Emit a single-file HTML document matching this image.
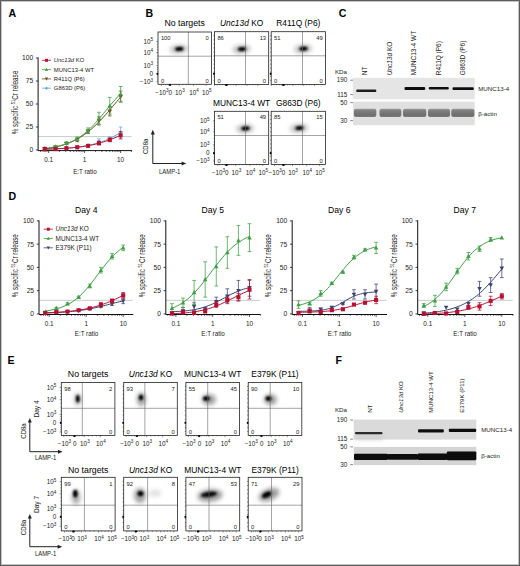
<!DOCTYPE html>
<html><head><meta charset="utf-8"><style>
html,body{margin:0;padding:0;background:#fff;}
body{width:520px;height:566px;overflow:hidden;position:relative;}
svg{display:block;}
#frame{position:absolute;left:0;top:0;width:520px;height:566px;box-sizing:border-box;border:1px solid #5c5c5c;box-shadow:inset 0 0 0 1px #c4c4c4;}
</style></head><body>
<svg width="520" height="566" viewBox="0 0 520 566">
<defs>
<filter id="b1" x="-100%" y="-100%" width="300%" height="300%"><feGaussianBlur stdDeviation="0.9"/></filter>
<filter id="b2" x="-100%" y="-100%" width="300%" height="300%"><feGaussianBlur stdDeviation="2.2"/></filter>
<linearGradient id="gact" x1="0" y1="0" x2="0" y2="1"><stop offset="0" stop-color="#9a9a9a"/><stop offset="0.25" stop-color="#7e7e7e"/><stop offset="0.75" stop-color="#6e6e6e"/><stop offset="1" stop-color="#7a7a7a"/></linearGradient>
<filter id="b3" x="-50%" y="-200%" width="200%" height="500%"><feGaussianBlur stdDeviation="0.5"/></filter>
</defs>
<rect x="0" y="0" width="520" height="566" fill="#fff"/>
<g font-family='"Liberation Sans", sans-serif'>
<text x="8.60" y="16.60" font-size="10.6" text-anchor="start" font-weight="bold" fill="#000">A</text>
<text x="145.40" y="17.20" font-size="10.6" text-anchor="start" font-weight="bold" fill="#000">B</text>
<text x="338.80" y="16.60" font-size="10.6" text-anchor="start" font-weight="bold" fill="#000">C</text>
<text x="8.60" y="200.40" font-size="10.6" text-anchor="start" font-weight="bold" fill="#000">D</text>
<text x="7.40" y="363.80" font-size="10.6" text-anchor="start" font-weight="bold" fill="#000">E</text>
<text x="335.40" y="364.20" font-size="10.6" text-anchor="start" font-weight="bold" fill="#000">F</text>
<line x1="38.10" y1="136.57" x2="131.50" y2="136.57" stroke="#b3babf" stroke-width="0.75"/>
<path d="M38.10,57.50 V150.60 H132.00" fill="none" stroke="#111" stroke-width="1"/>
<line x1="35.90" y1="150.00" x2="38.10" y2="150.00" stroke="#111" stroke-width="0.8"/>
<text x="33.20" y="152.40" font-size="6.7" text-anchor="end" fill="#222">0</text>
<line x1="35.90" y1="127.00" x2="38.10" y2="127.00" stroke="#111" stroke-width="0.8"/>
<text x="33.20" y="129.40" font-size="6.7" text-anchor="end" fill="#222">25</text>
<line x1="35.90" y1="104.00" x2="38.10" y2="104.00" stroke="#111" stroke-width="0.8"/>
<text x="33.20" y="106.40" font-size="6.7" text-anchor="end" fill="#222">50</text>
<line x1="35.90" y1="81.00" x2="38.10" y2="81.00" stroke="#111" stroke-width="0.8"/>
<text x="33.20" y="83.40" font-size="6.7" text-anchor="end" fill="#222">75</text>
<line x1="35.90" y1="58.00" x2="38.10" y2="58.00" stroke="#111" stroke-width="0.8"/>
<text x="33.20" y="60.40" font-size="6.7" text-anchor="end" fill="#222">100</text>
<line x1="40.61" y1="150.60" x2="40.61" y2="151.90" stroke="#111" stroke-width="0.7"/>
<line x1="43.02" y1="150.60" x2="43.02" y2="151.90" stroke="#111" stroke-width="0.7"/>
<line x1="45.11" y1="150.60" x2="45.11" y2="151.90" stroke="#111" stroke-width="0.7"/>
<line x1="46.95" y1="150.60" x2="46.95" y2="151.90" stroke="#111" stroke-width="0.7"/>
<line x1="48.60" y1="150.60" x2="48.60" y2="153.00" stroke="#111" stroke-width="0.7"/>
<line x1="59.44" y1="150.60" x2="59.44" y2="151.90" stroke="#111" stroke-width="0.7"/>
<line x1="65.78" y1="150.60" x2="65.78" y2="151.90" stroke="#111" stroke-width="0.7"/>
<line x1="70.27" y1="150.60" x2="70.27" y2="151.90" stroke="#111" stroke-width="0.7"/>
<line x1="73.76" y1="150.60" x2="73.76" y2="151.90" stroke="#111" stroke-width="0.7"/>
<line x1="76.61" y1="150.60" x2="76.61" y2="151.90" stroke="#111" stroke-width="0.7"/>
<line x1="79.02" y1="150.60" x2="79.02" y2="151.90" stroke="#111" stroke-width="0.7"/>
<line x1="81.11" y1="150.60" x2="81.11" y2="151.90" stroke="#111" stroke-width="0.7"/>
<line x1="82.95" y1="150.60" x2="82.95" y2="151.90" stroke="#111" stroke-width="0.7"/>
<line x1="84.60" y1="150.60" x2="84.60" y2="153.00" stroke="#111" stroke-width="0.7"/>
<line x1="95.44" y1="150.60" x2="95.44" y2="151.90" stroke="#111" stroke-width="0.7"/>
<line x1="101.78" y1="150.60" x2="101.78" y2="151.90" stroke="#111" stroke-width="0.7"/>
<line x1="106.27" y1="150.60" x2="106.27" y2="151.90" stroke="#111" stroke-width="0.7"/>
<line x1="109.76" y1="150.60" x2="109.76" y2="151.90" stroke="#111" stroke-width="0.7"/>
<line x1="112.61" y1="150.60" x2="112.61" y2="151.90" stroke="#111" stroke-width="0.7"/>
<line x1="115.02" y1="150.60" x2="115.02" y2="151.90" stroke="#111" stroke-width="0.7"/>
<line x1="117.11" y1="150.60" x2="117.11" y2="151.90" stroke="#111" stroke-width="0.7"/>
<line x1="118.95" y1="150.60" x2="118.95" y2="151.90" stroke="#111" stroke-width="0.7"/>
<line x1="120.60" y1="150.60" x2="120.60" y2="153.00" stroke="#111" stroke-width="0.7"/>
<line x1="131.44" y1="150.60" x2="131.44" y2="151.90" stroke="#111" stroke-width="0.7"/>
<text x="48.60" y="161.60" font-size="6.4" text-anchor="middle" fill="#222">0.1</text>
<text x="84.60" y="161.60" font-size="6.4" text-anchor="middle" fill="#222">1</text>
<text x="120.60" y="161.60" font-size="6.4" text-anchor="middle" fill="#222">10</text>
<path d="M44.72,149.11 L46.61,149.06 L48.51,149.00 L50.41,148.94 L52.30,148.88 L54.20,148.81 L56.10,148.73 L58.00,148.64 L59.89,148.54 L61.79,148.44 L63.69,148.32 L65.58,148.19 L67.48,148.06 L69.38,147.90 L71.28,147.73 L73.17,147.55 L75.07,147.35 L76.97,147.13 L78.86,146.89 L80.76,146.63 L82.66,146.34 L84.55,146.03 L86.45,145.69 L88.35,145.32 L90.25,144.92 L92.14,144.49 L94.04,144.02 L95.94,143.51 L97.83,142.96 L99.73,142.37 L101.63,141.73 L103.53,141.04 L105.42,140.31 L107.32,139.53 L109.22,138.70 L111.11,137.81 L113.01,136.88 L114.91,135.89 L116.81,134.85 L118.70,133.76 L120.60,132.62" fill="none" stroke="#5aaee8" stroke-width="1.0"/>
<path d="M98.93,138.96 V144.48 M97.03,138.96 H100.83 M97.03,144.48 H100.83" stroke="#5aaee8" stroke-width="0.75" fill="none"/>
<path d="M109.76,137.12 V140.80 M107.86,137.12 H111.66 M107.86,140.80 H111.66" stroke="#5aaee8" stroke-width="0.75" fill="none"/>
<path d="M120.60,127.00 V138.04 M118.70,127.00 H122.50 M118.70,138.04 H122.50" stroke="#5aaee8" stroke-width="0.75" fill="none"/>
<path d="M44.72,146.62 L46.77,149.08 L44.72,151.54 L42.67,149.08Z" fill="#5aaee8"/>
<path d="M55.55,146.16 L57.60,148.62 L55.55,151.08 L53.50,148.62Z" fill="#5aaee8"/>
<path d="M66.41,145.70 L68.46,148.16 L66.41,150.62 L64.36,148.16Z" fill="#5aaee8"/>
<path d="M77.25,144.78 L79.30,147.24 L77.25,149.70 L75.20,147.24Z" fill="#5aaee8"/>
<path d="M88.09,143.40 L90.14,145.86 L88.09,148.32 L86.04,145.86Z" fill="#5aaee8"/>
<path d="M98.93,139.26 L100.98,141.72 L98.93,144.18 L96.88,141.72Z" fill="#5aaee8"/>
<path d="M109.76,136.50 L111.81,138.96 L109.76,141.42 L107.71,138.96Z" fill="#5aaee8"/>
<path d="M120.60,130.06 L122.65,132.52 L120.60,134.98 L118.55,132.52Z" fill="#5aaee8"/>
<path d="M44.72,148.87 L46.61,148.61 L48.51,148.32 L50.41,148.00 L52.30,147.65 L54.20,147.27 L56.10,146.86 L58.00,146.41 L59.89,145.92 L61.79,145.39 L63.69,144.81 L65.58,144.18 L67.48,143.49 L69.38,142.75 L71.28,141.96 L73.17,141.09 L75.07,140.17 L76.97,139.17 L78.86,138.10 L80.76,136.95 L82.66,135.73 L84.55,134.42 L86.45,133.04 L88.35,131.57 L90.25,130.02 L92.14,128.38 L94.04,126.67 L95.94,124.87 L97.83,123.01 L99.73,121.07 L101.63,119.06 L103.53,117.00 L105.42,114.88 L107.32,112.72 L109.22,110.52 L111.11,108.30 L113.01,106.06 L114.91,103.82 L116.81,101.58 L118.70,99.36 L120.60,97.16" fill="none" stroke="#6e4a1c" stroke-width="1.0"/>
<path d="M44.72,147.24 V150.00 M42.82,147.24 H46.62 M42.82,150.00 H46.62" stroke="#6e4a1c" stroke-width="0.75" fill="none"/>
<path d="M55.55,146.32 V148.16 M53.65,146.32 H57.45 M53.65,148.16 H57.45" stroke="#6e4a1c" stroke-width="0.75" fill="none"/>
<path d="M66.41,142.64 V144.48 M64.51,142.64 H68.31 M64.51,144.48 H68.31" stroke="#6e4a1c" stroke-width="0.75" fill="none"/>
<path d="M77.25,138.04 V141.72 M75.35,138.04 H79.15 M75.35,141.72 H79.15" stroke="#6e4a1c" stroke-width="0.75" fill="none"/>
<path d="M88.09,129.76 V133.44 M86.19,129.76 H89.99 M86.19,133.44 H89.99" stroke="#6e4a1c" stroke-width="0.75" fill="none"/>
<path d="M98.93,116.88 V124.24 M97.03,116.88 H100.83 M97.03,124.24 H100.83" stroke="#6e4a1c" stroke-width="0.75" fill="none"/>
<path d="M109.76,106.76 V115.96 M107.86,106.76 H111.66 M107.86,115.96 H111.66" stroke="#6e4a1c" stroke-width="0.75" fill="none"/>
<path d="M120.60,91.12 V102.16 M118.70,91.12 H122.50 M118.70,102.16 H122.50" stroke="#6e4a1c" stroke-width="0.75" fill="none"/>
<path d="M44.72,151.08 L46.97,146.88 L42.46,146.88Z" fill="#6e4a1c"/>
<path d="M55.55,149.70 L57.81,145.50 L53.30,145.50Z" fill="#6e4a1c"/>
<path d="M66.41,146.02 L68.67,141.82 L64.16,141.82Z" fill="#6e4a1c"/>
<path d="M77.25,142.34 L79.51,138.14 L75.00,138.14Z" fill="#6e4a1c"/>
<path d="M88.09,134.06 L90.34,129.86 L85.83,129.86Z" fill="#6e4a1c"/>
<path d="M98.93,123.02 L101.18,118.82 L96.67,118.82Z" fill="#6e4a1c"/>
<path d="M109.76,113.82 L112.02,109.62 L107.51,109.62Z" fill="#6e4a1c"/>
<path d="M120.60,99.10 L122.85,94.90 L118.34,94.90Z" fill="#6e4a1c"/>
<path d="M44.72,148.34 L46.61,148.13 L48.51,147.90 L50.41,147.64 L52.30,147.34 L54.20,147.01 L56.10,146.65 L58.00,146.24 L59.89,145.78 L61.79,145.28 L63.69,144.72 L65.58,144.10 L67.48,143.41 L69.38,142.66 L71.28,141.82 L73.17,140.91 L75.07,139.91 L76.97,138.82 L78.86,137.63 L80.76,136.34 L82.66,134.95 L84.55,133.45 L86.45,131.85 L88.35,130.15 L90.25,128.34 L92.14,126.43 L94.04,124.44 L95.94,122.36 L97.83,120.21 L99.73,117.99 L101.63,115.73 L103.53,113.44 L105.42,111.12 L107.32,108.81 L109.22,106.51 L111.11,104.25 L113.01,102.02 L114.91,99.86 L116.81,97.77 L118.70,95.76 L120.60,93.84" fill="none" stroke="#3f9f45" stroke-width="1.0"/>
<path d="M44.72,147.70 V149.54 M42.82,147.70 H46.62 M42.82,149.54 H46.62" stroke="#3f9f45" stroke-width="0.75" fill="none"/>
<path d="M55.55,145.86 V147.70 M53.65,145.86 H57.45 M53.65,147.70 H57.45" stroke="#3f9f45" stroke-width="0.75" fill="none"/>
<path d="M66.41,142.18 V144.02 M64.51,142.18 H68.31 M64.51,144.02 H68.31" stroke="#3f9f45" stroke-width="0.75" fill="none"/>
<path d="M77.25,137.12 V140.80 M75.35,137.12 H79.15 M75.35,140.80 H79.15" stroke="#3f9f45" stroke-width="0.75" fill="none"/>
<path d="M88.09,127.92 V133.44 M86.19,127.92 H89.99 M86.19,133.44 H89.99" stroke="#3f9f45" stroke-width="0.75" fill="none"/>
<path d="M98.93,112.28 V125.16 M97.03,112.28 H100.83 M97.03,125.16 H100.83" stroke="#3f9f45" stroke-width="0.75" fill="none"/>
<path d="M109.76,97.56 V114.12 M107.86,97.56 H111.66 M107.86,114.12 H111.66" stroke="#3f9f45" stroke-width="0.75" fill="none"/>
<path d="M120.60,86.52 V101.24 M118.70,86.52 H122.50 M118.70,101.24 H122.50" stroke="#3f9f45" stroke-width="0.75" fill="none"/>
<path d="M44.72,146.16 L46.97,150.36 L42.46,150.36Z" fill="#3f9f45"/>
<path d="M55.55,144.32 L57.81,148.52 L53.30,148.52Z" fill="#3f9f45"/>
<path d="M66.41,140.64 L68.67,144.84 L64.16,144.84Z" fill="#3f9f45"/>
<path d="M77.25,136.50 L79.51,140.70 L75.00,140.70Z" fill="#3f9f45"/>
<path d="M88.09,128.22 L90.34,132.42 L85.83,132.42Z" fill="#3f9f45"/>
<path d="M98.93,116.26 L101.18,120.46 L96.67,120.46Z" fill="#3f9f45"/>
<path d="M109.76,103.38 L112.02,107.58 L107.51,107.58Z" fill="#3f9f45"/>
<path d="M120.60,91.42 L122.85,95.62 L118.34,95.62Z" fill="#3f9f45"/>
<path d="M44.72,149.20 L46.61,149.15 L48.51,149.10 L50.41,149.04 L52.30,148.98 L54.20,148.91 L56.10,148.83 L58.00,148.75 L59.89,148.66 L61.79,148.56 L63.69,148.45 L65.58,148.32 L67.48,148.19 L69.38,148.05 L71.28,147.89 L73.17,147.71 L75.07,147.53 L76.97,147.32 L78.86,147.10 L80.76,146.85 L82.66,146.59 L84.55,146.30 L86.45,145.99 L88.35,145.66 L90.25,145.30 L92.14,144.91 L94.04,144.49 L95.94,144.04 L97.83,143.56 L99.73,143.05 L101.63,142.50 L103.53,141.93 L105.42,141.31 L107.32,140.67 L109.22,139.99 L111.11,139.28 L113.01,138.54 L114.91,137.77 L116.81,136.97 L118.70,136.14 L120.60,135.30" fill="none" stroke="#b8102f" stroke-width="1.0"/>
<path d="M98.93,141.26 V144.94 M97.03,141.26 H100.83 M97.03,144.94 H100.83" stroke="#b8102f" stroke-width="0.75" fill="none"/>
<path d="M109.76,138.04 V141.72 M107.86,138.04 H111.66 M107.86,141.72 H111.66" stroke="#b8102f" stroke-width="0.75" fill="none"/>
<path d="M120.60,131.60 V138.96 M118.70,131.60 H122.50 M118.70,138.96 H122.50" stroke="#b8102f" stroke-width="0.75" fill="none"/>
<rect x="42.67" y="147.03" width="4.10" height="4.10" fill="#b8102f"/>
<rect x="53.50" y="147.03" width="4.10" height="4.10" fill="#b8102f"/>
<rect x="64.36" y="146.11" width="4.10" height="4.10" fill="#b8102f"/>
<rect x="75.20" y="145.19" width="4.10" height="4.10" fill="#b8102f"/>
<rect x="86.04" y="143.81" width="4.10" height="4.10" fill="#b8102f"/>
<rect x="96.88" y="141.05" width="4.10" height="4.10" fill="#b8102f"/>
<rect x="107.71" y="137.83" width="4.10" height="4.10" fill="#b8102f"/>
<rect x="118.55" y="133.23" width="4.10" height="4.10" fill="#b8102f"/>
<text x="18.10" y="102.50" font-size="8.8" text-anchor="middle" fill="#222" textLength="63.5" lengthAdjust="spacingAndGlyphs" transform="rotate(-90 18.10 102.50)">% specific <tspan font-size="5.6" dy="-3.2">51</tspan><tspan dy="3.2">Cr release</tspan></text>
<text x="84.90" y="173.50" font-size="8.0" text-anchor="middle" fill="#222" textLength="23.5" lengthAdjust="spacingAndGlyphs">E:T ratio</text>
<line x1="41.90" y1="60.30" x2="51.10" y2="60.30" stroke="#b8102f" stroke-width="0.8"/>
<rect x="45.00" y="58.80" width="3.00" height="3.00" fill="#b8102f"/>
<text x="53.80" y="62.40" font-size="5.9" text-anchor="start" fill="#222"><tspan font-style="italic">Unc13d</tspan> KO</text>
<line x1="41.90" y1="69.60" x2="51.10" y2="69.60" stroke="#3f9f45" stroke-width="0.8"/>
<path d="M46.50,67.80 L48.15,70.88 L44.85,70.88Z" fill="#3f9f45"/>
<text x="53.80" y="71.70" font-size="5.9" text-anchor="start" fill="#222">MUNC13-4 WT</text>
<line x1="41.90" y1="78.90" x2="51.10" y2="78.90" stroke="#6e4a1c" stroke-width="0.8"/>
<path d="M46.50,80.70 L48.15,77.62 L44.85,77.62Z" fill="#6e4a1c"/>
<text x="53.80" y="81.00" font-size="5.9" text-anchor="start" fill="#222">R411Q (P6)</text>
<line x1="41.90" y1="88.20" x2="51.10" y2="88.20" stroke="#5aaee8" stroke-width="0.8"/>
<path d="M46.50,86.40 L48.00,88.20 L46.50,90.00 L45.00,88.20Z" fill="#5aaee8"/>
<text x="53.80" y="90.30" font-size="5.9" text-anchor="start" fill="#222">G863D (P6)</text>
<line x1="39.00" y1="300.32" x2="132.80" y2="300.32" stroke="#b3babf" stroke-width="0.75"/>
<path d="M39.00,220.40 V314.50 H133.30" fill="none" stroke="#111" stroke-width="1"/>
<line x1="36.80" y1="313.90" x2="39.00" y2="313.90" stroke="#111" stroke-width="0.8"/>
<text x="34.10" y="316.30" font-size="6.7" text-anchor="end" fill="#222">0</text>
<line x1="36.80" y1="290.65" x2="39.00" y2="290.65" stroke="#111" stroke-width="0.8"/>
<text x="34.10" y="293.05" font-size="6.7" text-anchor="end" fill="#222">25</text>
<line x1="36.80" y1="267.40" x2="39.00" y2="267.40" stroke="#111" stroke-width="0.8"/>
<text x="34.10" y="269.80" font-size="6.7" text-anchor="end" fill="#222">50</text>
<line x1="36.80" y1="244.15" x2="39.00" y2="244.15" stroke="#111" stroke-width="0.8"/>
<text x="34.10" y="246.55" font-size="6.7" text-anchor="end" fill="#222">75</text>
<line x1="36.80" y1="220.90" x2="39.00" y2="220.90" stroke="#111" stroke-width="0.8"/>
<text x="34.10" y="223.30" font-size="6.7" text-anchor="end" fill="#222">100</text>
<line x1="40.99" y1="314.50" x2="40.99" y2="315.80" stroke="#111" stroke-width="0.7"/>
<line x1="43.47" y1="314.50" x2="43.47" y2="315.80" stroke="#111" stroke-width="0.7"/>
<line x1="45.61" y1="314.50" x2="45.61" y2="315.80" stroke="#111" stroke-width="0.7"/>
<line x1="47.51" y1="314.50" x2="47.51" y2="315.80" stroke="#111" stroke-width="0.7"/>
<line x1="49.20" y1="314.50" x2="49.20" y2="316.90" stroke="#111" stroke-width="0.7"/>
<line x1="60.34" y1="314.50" x2="60.34" y2="315.80" stroke="#111" stroke-width="0.7"/>
<line x1="66.85" y1="314.50" x2="66.85" y2="315.80" stroke="#111" stroke-width="0.7"/>
<line x1="71.48" y1="314.50" x2="71.48" y2="315.80" stroke="#111" stroke-width="0.7"/>
<line x1="75.06" y1="314.50" x2="75.06" y2="315.80" stroke="#111" stroke-width="0.7"/>
<line x1="77.99" y1="314.50" x2="77.99" y2="315.80" stroke="#111" stroke-width="0.7"/>
<line x1="80.47" y1="314.50" x2="80.47" y2="315.80" stroke="#111" stroke-width="0.7"/>
<line x1="82.61" y1="314.50" x2="82.61" y2="315.80" stroke="#111" stroke-width="0.7"/>
<line x1="84.51" y1="314.50" x2="84.51" y2="315.80" stroke="#111" stroke-width="0.7"/>
<line x1="86.20" y1="314.50" x2="86.20" y2="316.90" stroke="#111" stroke-width="0.7"/>
<line x1="97.34" y1="314.50" x2="97.34" y2="315.80" stroke="#111" stroke-width="0.7"/>
<line x1="103.85" y1="314.50" x2="103.85" y2="315.80" stroke="#111" stroke-width="0.7"/>
<line x1="108.48" y1="314.50" x2="108.48" y2="315.80" stroke="#111" stroke-width="0.7"/>
<line x1="112.06" y1="314.50" x2="112.06" y2="315.80" stroke="#111" stroke-width="0.7"/>
<line x1="114.99" y1="314.50" x2="114.99" y2="315.80" stroke="#111" stroke-width="0.7"/>
<line x1="117.47" y1="314.50" x2="117.47" y2="315.80" stroke="#111" stroke-width="0.7"/>
<line x1="119.61" y1="314.50" x2="119.61" y2="315.80" stroke="#111" stroke-width="0.7"/>
<line x1="121.51" y1="314.50" x2="121.51" y2="315.80" stroke="#111" stroke-width="0.7"/>
<line x1="123.20" y1="314.50" x2="123.20" y2="316.90" stroke="#111" stroke-width="0.7"/>
<text x="49.20" y="325.50" font-size="6.4" text-anchor="middle" fill="#222">0.1</text>
<text x="86.20" y="325.50" font-size="6.4" text-anchor="middle" fill="#222">1</text>
<text x="123.20" y="325.50" font-size="6.4" text-anchor="middle" fill="#222">10</text>
<path d="M45.21,313.00 L47.16,312.94 L49.11,312.88 L51.06,312.81 L53.01,312.73 L54.96,312.65 L56.91,312.55 L58.86,312.45 L60.81,312.34 L62.76,312.21 L64.71,312.08 L66.66,311.93 L68.61,311.77 L70.56,311.59 L72.50,311.40 L74.45,311.19 L76.40,310.96 L78.35,310.71 L80.30,310.45 L82.25,310.17 L84.20,309.86 L86.15,309.54 L88.10,309.19 L90.05,308.82 L92.00,308.44 L93.95,308.03 L95.90,307.61 L97.85,307.17 L99.80,306.71 L101.75,306.24 L103.70,305.76 L105.65,305.27 L107.60,304.77 L109.55,304.27 L111.50,303.77 L113.45,303.27 L115.40,302.78 L117.35,302.29 L119.30,301.81 L121.25,301.35 L123.20,300.90" fill="none" stroke="#3c4370" stroke-width="1.0"/>
<path d="M89.79,307.85 V309.71 M87.89,307.85 H91.69 M87.89,309.71 H91.69" stroke="#3c4370" stroke-width="0.75" fill="none"/>
<path d="M100.92,305.53 V307.39 M99.02,305.53 H102.82 M99.02,307.39 H102.82" stroke="#3c4370" stroke-width="0.75" fill="none"/>
<path d="M112.06,301.81 V305.53 M110.16,301.81 H113.96 M110.16,305.53 H113.96" stroke="#3c4370" stroke-width="0.75" fill="none"/>
<path d="M123.20,298.09 V303.67 M121.30,298.09 H125.10 M121.30,303.67 H125.10" stroke="#3c4370" stroke-width="0.75" fill="none"/>
<path d="M45.21,315.43 L47.46,311.23 L42.95,311.23Z" fill="#3c4370"/>
<path d="M56.35,314.96 L58.60,310.76 L54.09,310.76Z" fill="#3c4370"/>
<path d="M67.51,314.50 L69.76,310.30 L65.25,310.30Z" fill="#3c4370"/>
<path d="M78.65,313.10 L80.90,308.90 L76.39,308.90Z" fill="#3c4370"/>
<path d="M89.79,311.24 L92.04,307.04 L87.53,307.04Z" fill="#3c4370"/>
<path d="M100.92,308.92 L103.18,304.72 L98.67,304.72Z" fill="#3c4370"/>
<path d="M112.06,306.13 L114.32,301.93 L109.81,301.93Z" fill="#3c4370"/>
<path d="M123.20,303.34 L125.45,299.14 L120.95,299.14Z" fill="#3c4370"/>
<path d="M45.21,311.01 L47.16,310.75 L49.11,310.44 L51.06,310.10 L53.01,309.71 L54.96,309.27 L56.91,308.76 L58.86,308.20 L60.81,307.56 L62.76,306.84 L64.71,306.03 L66.66,305.13 L68.61,304.12 L70.56,303.01 L72.50,301.77 L74.45,300.40 L76.40,298.91 L78.35,297.28 L80.30,295.51 L82.25,293.60 L84.20,291.56 L86.15,289.40 L88.10,287.12 L90.05,284.73 L92.00,282.25 L93.95,279.71 L95.90,277.12 L97.85,274.51 L99.80,271.90 L101.75,269.32 L103.70,266.78 L105.65,264.32 L107.60,261.95 L109.55,259.68 L111.50,257.53 L113.45,255.51 L115.40,253.62 L117.35,251.87 L119.30,250.26 L121.25,248.78 L123.20,247.43" fill="none" stroke="#3f9f45" stroke-width="1.0"/>
<path d="M56.35,307.39 V309.25 M54.45,307.39 H58.25 M54.45,309.25 H58.25" stroke="#3f9f45" stroke-width="0.75" fill="none"/>
<path d="M67.51,302.74 V304.60 M65.61,302.74 H69.41 M65.61,304.60 H69.41" stroke="#3f9f45" stroke-width="0.75" fill="none"/>
<path d="M78.65,296.23 V298.09 M76.75,296.23 H80.55 M76.75,298.09 H80.55" stroke="#3f9f45" stroke-width="0.75" fill="none"/>
<path d="M89.79,284.14 V287.86 M87.89,284.14 H91.69 M87.89,287.86 H91.69" stroke="#3f9f45" stroke-width="0.75" fill="none"/>
<path d="M100.92,267.40 V272.98 M99.02,267.40 H102.82 M99.02,272.98 H102.82" stroke="#3f9f45" stroke-width="0.75" fill="none"/>
<path d="M112.06,253.45 V259.03 M110.16,253.45 H113.96 M110.16,259.03 H113.96" stroke="#3f9f45" stroke-width="0.75" fill="none"/>
<path d="M123.20,245.08 V250.66 M121.30,245.08 H125.10 M121.30,250.66 H125.10" stroke="#3f9f45" stroke-width="0.75" fill="none"/>
<path d="M45.21,309.58 L47.46,313.78 L42.95,313.78Z" fill="#3f9f45"/>
<path d="M56.35,305.86 L58.60,310.06 L54.09,310.06Z" fill="#3f9f45"/>
<path d="M67.51,301.21 L69.76,305.41 L65.25,305.41Z" fill="#3f9f45"/>
<path d="M78.65,294.70 L80.90,298.90 L76.39,298.90Z" fill="#3f9f45"/>
<path d="M89.79,283.54 L92.04,287.74 L87.53,287.74Z" fill="#3f9f45"/>
<path d="M100.92,267.73 L103.18,271.93 L98.67,271.93Z" fill="#3f9f45"/>
<path d="M112.06,253.78 L114.32,257.98 L109.81,257.98Z" fill="#3f9f45"/>
<path d="M123.20,245.41 L125.45,249.61 L120.95,249.61Z" fill="#3f9f45"/>
<path d="M45.21,312.82 L47.16,312.75 L49.11,312.68 L51.06,312.59 L53.01,312.50 L54.96,312.40 L56.91,312.29 L58.86,312.17 L60.81,312.04 L62.76,311.90 L64.71,311.74 L66.66,311.57 L68.61,311.39 L70.56,311.19 L72.50,310.97 L74.45,310.74 L76.40,310.48 L78.35,310.20 L80.30,309.90 L82.25,309.58 L84.20,309.23 L86.15,308.85 L88.10,308.45 L90.05,308.01 L92.00,307.54 L93.95,307.04 L95.90,306.51 L97.85,305.94 L99.80,305.33 L101.75,304.69 L103.70,304.01 L105.65,303.29 L107.60,302.54 L109.55,301.75 L111.50,300.93 L113.45,300.07 L115.40,299.18 L117.35,298.25 L119.30,297.31 L121.25,296.33 L123.20,295.34" fill="none" stroke="#b8102f" stroke-width="1.0"/>
<path d="M89.79,307.39 V309.25 M87.89,307.39 H91.69 M87.89,309.25 H91.69" stroke="#b8102f" stroke-width="0.75" fill="none"/>
<path d="M100.92,302.74 V306.46 M99.02,302.74 H102.82 M99.02,306.46 H102.82" stroke="#b8102f" stroke-width="0.75" fill="none"/>
<path d="M112.06,299.02 V302.74 M110.16,299.02 H113.96 M110.16,302.74 H113.96" stroke="#b8102f" stroke-width="0.75" fill="none"/>
<path d="M123.20,292.51 V298.09 M121.30,292.51 H125.10 M121.30,298.09 H125.10" stroke="#b8102f" stroke-width="0.75" fill="none"/>
<rect x="43.16" y="310.92" width="4.10" height="4.10" fill="#b8102f"/>
<rect x="54.30" y="309.99" width="4.10" height="4.10" fill="#b8102f"/>
<rect x="65.46" y="309.52" width="4.10" height="4.10" fill="#b8102f"/>
<rect x="76.60" y="308.13" width="4.10" height="4.10" fill="#b8102f"/>
<rect x="87.74" y="306.27" width="4.10" height="4.10" fill="#b8102f"/>
<rect x="98.87" y="302.55" width="4.10" height="4.10" fill="#b8102f"/>
<rect x="110.01" y="298.83" width="4.10" height="4.10" fill="#b8102f"/>
<rect x="121.15" y="293.25" width="4.10" height="4.10" fill="#b8102f"/>
<text x="86.20" y="213.10" font-size="8.6" text-anchor="middle">Day 4</text>
<text x="18.10" y="265.70" font-size="8.8" text-anchor="middle" fill="#222" textLength="63" lengthAdjust="spacingAndGlyphs" transform="rotate(-90 18.10 265.70)">% specific <tspan font-size="5.6" dy="-3.2">51</tspan><tspan dy="3.2">Cr release</tspan></text>
<text x="86.50" y="336.30" font-size="8.0" text-anchor="middle" fill="#222" textLength="23.5" lengthAdjust="spacingAndGlyphs">E:T ratio</text>
<line x1="43.70" y1="229.20" x2="52.90" y2="229.20" stroke="#b8102f" stroke-width="0.8"/>
<rect x="46.80" y="227.70" width="3.00" height="3.00" fill="#b8102f"/>
<text x="55.60" y="231.30" font-size="6.4" text-anchor="start" fill="#222"><tspan font-style="italic">Unc13d</tspan> KO</text>
<line x1="43.70" y1="238.50" x2="52.90" y2="238.50" stroke="#3f9f45" stroke-width="0.8"/>
<path d="M48.30,236.70 L49.95,239.78 L46.65,239.78Z" fill="#3f9f45"/>
<text x="55.60" y="240.60" font-size="6.4" text-anchor="start" fill="#222">MUNC13-4 WT</text>
<line x1="43.70" y1="247.80" x2="52.90" y2="247.80" stroke="#3c4370" stroke-width="0.8"/>
<path d="M48.30,249.60 L49.95,246.52 L46.65,246.52Z" fill="#3c4370"/>
<text x="55.60" y="249.90" font-size="6.4" text-anchor="start" fill="#222">E379K (P11)</text>
<line x1="165.80" y1="300.32" x2="260.10" y2="300.32" stroke="#b3babf" stroke-width="0.75"/>
<path d="M165.80,220.40 V314.50 H260.60" fill="none" stroke="#111" stroke-width="1"/>
<line x1="163.60" y1="313.90" x2="165.80" y2="313.90" stroke="#111" stroke-width="0.8"/>
<text x="160.90" y="316.30" font-size="6.7" text-anchor="end" fill="#222">0</text>
<line x1="163.60" y1="290.65" x2="165.80" y2="290.65" stroke="#111" stroke-width="0.8"/>
<text x="160.90" y="293.05" font-size="6.7" text-anchor="end" fill="#222">25</text>
<line x1="163.60" y1="267.40" x2="165.80" y2="267.40" stroke="#111" stroke-width="0.8"/>
<text x="160.90" y="269.80" font-size="6.7" text-anchor="end" fill="#222">50</text>
<line x1="163.60" y1="244.15" x2="165.80" y2="244.15" stroke="#111" stroke-width="0.8"/>
<text x="160.90" y="246.55" font-size="6.7" text-anchor="end" fill="#222">75</text>
<line x1="163.60" y1="220.90" x2="165.80" y2="220.90" stroke="#111" stroke-width="0.8"/>
<text x="160.90" y="223.30" font-size="6.7" text-anchor="end" fill="#222">100</text>
<line x1="167.74" y1="314.50" x2="167.74" y2="315.80" stroke="#111" stroke-width="0.7"/>
<line x1="170.20" y1="314.50" x2="170.20" y2="315.80" stroke="#111" stroke-width="0.7"/>
<line x1="172.33" y1="314.50" x2="172.33" y2="315.80" stroke="#111" stroke-width="0.7"/>
<line x1="174.22" y1="314.50" x2="174.22" y2="315.80" stroke="#111" stroke-width="0.7"/>
<line x1="175.90" y1="314.50" x2="175.90" y2="316.90" stroke="#111" stroke-width="0.7"/>
<line x1="186.98" y1="314.50" x2="186.98" y2="315.80" stroke="#111" stroke-width="0.7"/>
<line x1="193.46" y1="314.50" x2="193.46" y2="315.80" stroke="#111" stroke-width="0.7"/>
<line x1="198.06" y1="314.50" x2="198.06" y2="315.80" stroke="#111" stroke-width="0.7"/>
<line x1="201.62" y1="314.50" x2="201.62" y2="315.80" stroke="#111" stroke-width="0.7"/>
<line x1="204.54" y1="314.50" x2="204.54" y2="315.80" stroke="#111" stroke-width="0.7"/>
<line x1="207.00" y1="314.50" x2="207.00" y2="315.80" stroke="#111" stroke-width="0.7"/>
<line x1="209.13" y1="314.50" x2="209.13" y2="315.80" stroke="#111" stroke-width="0.7"/>
<line x1="211.02" y1="314.50" x2="211.02" y2="315.80" stroke="#111" stroke-width="0.7"/>
<line x1="212.70" y1="314.50" x2="212.70" y2="316.90" stroke="#111" stroke-width="0.7"/>
<line x1="223.78" y1="314.50" x2="223.78" y2="315.80" stroke="#111" stroke-width="0.7"/>
<line x1="230.26" y1="314.50" x2="230.26" y2="315.80" stroke="#111" stroke-width="0.7"/>
<line x1="234.86" y1="314.50" x2="234.86" y2="315.80" stroke="#111" stroke-width="0.7"/>
<line x1="238.42" y1="314.50" x2="238.42" y2="315.80" stroke="#111" stroke-width="0.7"/>
<line x1="241.34" y1="314.50" x2="241.34" y2="315.80" stroke="#111" stroke-width="0.7"/>
<line x1="243.80" y1="314.50" x2="243.80" y2="315.80" stroke="#111" stroke-width="0.7"/>
<line x1="245.93" y1="314.50" x2="245.93" y2="315.80" stroke="#111" stroke-width="0.7"/>
<line x1="247.82" y1="314.50" x2="247.82" y2="315.80" stroke="#111" stroke-width="0.7"/>
<line x1="249.50" y1="314.50" x2="249.50" y2="316.90" stroke="#111" stroke-width="0.7"/>
<line x1="260.58" y1="314.50" x2="260.58" y2="315.80" stroke="#111" stroke-width="0.7"/>
<text x="175.90" y="325.50" font-size="6.4" text-anchor="middle" fill="#222">0.1</text>
<text x="212.70" y="325.50" font-size="6.4" text-anchor="middle" fill="#222">1</text>
<text x="249.50" y="325.50" font-size="6.4" text-anchor="middle" fill="#222">10</text>
<path d="M171.93,311.74 L173.87,311.66 L175.81,311.57 L177.75,311.46 L179.69,311.34 L181.63,311.19 L183.56,311.03 L185.50,310.84 L187.44,310.63 L189.38,310.39 L191.32,310.11 L193.26,309.80 L195.20,309.44 L197.14,309.04 L199.08,308.59 L201.02,308.09 L202.96,307.54 L204.90,306.92 L206.84,306.25 L208.78,305.51 L210.71,304.72 L212.65,303.87 L214.59,302.97 L216.53,302.02 L218.47,301.03 L220.41,300.01 L222.35,298.97 L224.29,297.93 L226.23,296.88 L228.17,295.85 L230.11,294.85 L232.05,293.88 L233.99,292.96 L235.93,292.08 L237.86,291.26 L239.80,290.50 L241.74,289.80 L243.68,289.16 L245.62,288.57 L247.56,288.05 L249.50,287.58" fill="none" stroke="#3c4370" stroke-width="1.0"/>
<path d="M183.01,307.39 V313.90 M181.11,307.39 H184.91 M181.11,313.90 H184.91" stroke="#3c4370" stroke-width="0.75" fill="none"/>
<path d="M194.11,302.74 V310.18 M192.21,302.74 H196.01 M192.21,310.18 H196.01" stroke="#3c4370" stroke-width="0.75" fill="none"/>
<path d="M205.19,307.39 V311.11 M203.29,307.39 H207.09 M203.29,311.11 H207.09" stroke="#3c4370" stroke-width="0.75" fill="none"/>
<path d="M216.27,297.16 V306.46 M214.37,297.16 H218.17 M214.37,306.46 H218.17" stroke="#3c4370" stroke-width="0.75" fill="none"/>
<path d="M227.34,288.79 V303.67 M225.44,288.79 H229.24 M225.44,303.67 H229.24" stroke="#3c4370" stroke-width="0.75" fill="none"/>
<path d="M238.42,280.42 V300.88 M236.52,280.42 H240.32 M236.52,300.88 H240.32" stroke="#3c4370" stroke-width="0.75" fill="none"/>
<path d="M249.50,279.49 V296.23 M247.60,279.49 H251.40 M247.60,296.23 H251.40" stroke="#3c4370" stroke-width="0.75" fill="none"/>
<path d="M171.93,315.43 L174.18,311.23 L169.67,311.23Z" fill="#3c4370"/>
<path d="M183.01,313.57 L185.26,309.37 L180.75,309.37Z" fill="#3c4370"/>
<path d="M194.11,308.92 L196.37,304.72 L191.86,304.72Z" fill="#3c4370"/>
<path d="M205.19,311.71 L207.44,307.51 L202.93,307.51Z" fill="#3c4370"/>
<path d="M216.27,304.27 L218.52,300.07 L214.01,300.07Z" fill="#3c4370"/>
<path d="M227.34,298.69 L229.60,294.49 L225.09,294.49Z" fill="#3c4370"/>
<path d="M238.42,293.11 L240.68,288.91 L236.17,288.91Z" fill="#3c4370"/>
<path d="M249.50,290.32 L251.75,286.12 L247.25,286.12Z" fill="#3c4370"/>
<path d="M171.93,308.26 L173.87,307.45 L175.81,306.57 L177.75,305.59 L179.69,304.52 L181.63,303.34 L183.56,302.06 L185.50,300.66 L187.44,299.15 L189.38,297.51 L191.32,295.76 L193.26,293.88 L195.20,291.89 L197.14,289.78 L199.08,287.57 L201.02,285.26 L202.96,282.86 L204.90,280.38 L206.84,277.86 L208.78,275.29 L210.71,272.69 L212.65,270.10 L214.59,267.52 L216.53,264.97 L218.47,262.48 L220.41,260.05 L222.35,257.70 L224.29,255.45 L226.23,253.31 L228.17,251.27 L230.11,249.35 L232.05,247.55 L233.99,245.88 L235.93,244.32 L237.86,242.88 L239.80,241.56 L241.74,240.34 L243.68,239.23 L245.62,238.22 L247.56,237.30 L249.50,236.47" fill="none" stroke="#3f9f45" stroke-width="1.0"/>
<path d="M171.93,303.67 V312.97 M170.03,303.67 H173.83 M170.03,312.97 H173.83" stroke="#3f9f45" stroke-width="0.75" fill="none"/>
<path d="M183.01,298.09 V307.39 M181.11,298.09 H184.91 M181.11,307.39 H184.91" stroke="#3f9f45" stroke-width="0.75" fill="none"/>
<path d="M194.11,280.42 V304.60 M192.21,280.42 H196.01 M192.21,304.60 H196.01" stroke="#3f9f45" stroke-width="0.75" fill="none"/>
<path d="M205.19,261.82 V297.16 M203.29,261.82 H207.09 M203.29,297.16 H207.09" stroke="#3f9f45" stroke-width="0.75" fill="none"/>
<path d="M216.27,246.94 V286.00 M214.37,246.94 H218.17 M214.37,286.00 H218.17" stroke="#3f9f45" stroke-width="0.75" fill="none"/>
<path d="M227.34,236.71 V268.33 M225.44,236.71 H229.24 M225.44,268.33 H229.24" stroke="#3f9f45" stroke-width="0.75" fill="none"/>
<path d="M238.42,225.55 V255.31 M236.52,225.55 H240.32 M236.52,255.31 H240.32" stroke="#3f9f45" stroke-width="0.75" fill="none"/>
<path d="M249.50,223.69 V251.59 M247.60,223.69 H251.40 M247.60,251.59 H251.40" stroke="#3f9f45" stroke-width="0.75" fill="none"/>
<path d="M171.93,305.86 L174.18,310.06 L169.67,310.06Z" fill="#3f9f45"/>
<path d="M183.01,300.28 L185.26,304.48 L180.75,304.48Z" fill="#3f9f45"/>
<path d="M194.11,290.05 L196.37,294.25 L191.86,294.25Z" fill="#3f9f45"/>
<path d="M205.19,277.03 L207.44,281.23 L202.93,281.23Z" fill="#3f9f45"/>
<path d="M216.27,264.01 L218.52,268.21 L214.01,268.21Z" fill="#3f9f45"/>
<path d="M227.34,250.06 L229.60,254.26 L225.09,254.26Z" fill="#3f9f45"/>
<path d="M238.42,237.97 L240.68,242.17 L236.17,242.17Z" fill="#3f9f45"/>
<path d="M249.50,235.18 L251.75,239.38 L247.25,239.38Z" fill="#3f9f45"/>
<path d="M171.93,313.69 L173.87,313.61 L175.81,313.51 L177.75,313.41 L179.69,313.29 L181.63,313.16 L183.56,313.01 L185.50,312.84 L187.44,312.65 L189.38,312.44 L191.32,312.21 L193.26,311.95 L195.20,311.66 L197.14,311.34 L199.08,310.99 L201.02,310.59 L202.96,310.16 L204.90,309.69 L206.84,309.18 L208.78,308.62 L210.71,308.01 L212.65,307.36 L214.59,306.66 L216.53,305.91 L218.47,305.11 L220.41,304.28 L222.35,303.40 L224.29,302.49 L226.23,301.55 L228.17,300.58 L230.11,299.60 L232.05,298.61 L233.99,297.62 L235.93,296.63 L237.86,295.65 L239.80,294.70 L241.74,293.77 L243.68,292.87 L245.62,292.01 L247.56,291.19 L249.50,290.41" fill="none" stroke="#b8102f" stroke-width="1.0"/>
<path d="M183.01,310.18 V313.90 M181.11,310.18 H184.91 M181.11,313.90 H184.91" stroke="#b8102f" stroke-width="0.75" fill="none"/>
<path d="M194.11,311.11 V313.90 M192.21,311.11 H196.01 M192.21,313.90 H196.01" stroke="#b8102f" stroke-width="0.75" fill="none"/>
<path d="M205.19,309.25 V312.97 M203.29,309.25 H207.09 M203.29,312.97 H207.09" stroke="#b8102f" stroke-width="0.75" fill="none"/>
<path d="M216.27,301.81 V307.39 M214.37,301.81 H218.17 M214.37,307.39 H218.17" stroke="#b8102f" stroke-width="0.75" fill="none"/>
<path d="M227.34,297.16 V302.74 M225.44,297.16 H229.24 M225.44,302.74 H229.24" stroke="#b8102f" stroke-width="0.75" fill="none"/>
<path d="M238.42,293.44 V300.88 M236.52,293.44 H240.32 M236.52,300.88 H240.32" stroke="#b8102f" stroke-width="0.75" fill="none"/>
<path d="M249.50,280.42 V299.02 M247.60,280.42 H251.40 M247.60,299.02 H251.40" stroke="#b8102f" stroke-width="0.75" fill="none"/>
<rect x="169.88" y="311.38" width="4.10" height="4.10" fill="#b8102f"/>
<rect x="180.96" y="309.99" width="4.10" height="4.10" fill="#b8102f"/>
<rect x="192.06" y="310.92" width="4.10" height="4.10" fill="#b8102f"/>
<rect x="203.14" y="309.06" width="4.10" height="4.10" fill="#b8102f"/>
<rect x="214.22" y="302.55" width="4.10" height="4.10" fill="#b8102f"/>
<rect x="225.29" y="297.90" width="4.10" height="4.10" fill="#b8102f"/>
<rect x="236.37" y="295.11" width="4.10" height="4.10" fill="#b8102f"/>
<rect x="247.45" y="287.67" width="4.10" height="4.10" fill="#b8102f"/>
<text x="212.70" y="213.10" font-size="8.6" text-anchor="middle">Day 5</text>
<text x="144.90" y="265.70" font-size="8.8" text-anchor="middle" fill="#222" textLength="63" lengthAdjust="spacingAndGlyphs" transform="rotate(-90 144.90 265.70)">% specific <tspan font-size="5.6" dy="-3.2">51</tspan><tspan dy="3.2">Cr release</tspan></text>
<text x="213.00" y="336.30" font-size="8.0" text-anchor="middle" fill="#222" textLength="23.5" lengthAdjust="spacingAndGlyphs">E:T ratio</text>
<line x1="292.20" y1="300.32" x2="386.50" y2="300.32" stroke="#b3babf" stroke-width="0.75"/>
<path d="M292.20,220.40 V314.50 H387.00" fill="none" stroke="#111" stroke-width="1"/>
<line x1="290.00" y1="313.90" x2="292.20" y2="313.90" stroke="#111" stroke-width="0.8"/>
<text x="287.30" y="316.30" font-size="6.7" text-anchor="end" fill="#222">0</text>
<line x1="290.00" y1="290.65" x2="292.20" y2="290.65" stroke="#111" stroke-width="0.8"/>
<text x="287.30" y="293.05" font-size="6.7" text-anchor="end" fill="#222">25</text>
<line x1="290.00" y1="267.40" x2="292.20" y2="267.40" stroke="#111" stroke-width="0.8"/>
<text x="287.30" y="269.80" font-size="6.7" text-anchor="end" fill="#222">50</text>
<line x1="290.00" y1="244.15" x2="292.20" y2="244.15" stroke="#111" stroke-width="0.8"/>
<text x="287.30" y="246.55" font-size="6.7" text-anchor="end" fill="#222">75</text>
<line x1="290.00" y1="220.90" x2="292.20" y2="220.90" stroke="#111" stroke-width="0.8"/>
<text x="287.30" y="223.30" font-size="6.7" text-anchor="end" fill="#222">100</text>
<line x1="294.34" y1="314.50" x2="294.34" y2="315.80" stroke="#111" stroke-width="0.7"/>
<line x1="296.80" y1="314.50" x2="296.80" y2="315.80" stroke="#111" stroke-width="0.7"/>
<line x1="298.93" y1="314.50" x2="298.93" y2="315.80" stroke="#111" stroke-width="0.7"/>
<line x1="300.82" y1="314.50" x2="300.82" y2="315.80" stroke="#111" stroke-width="0.7"/>
<line x1="302.50" y1="314.50" x2="302.50" y2="316.90" stroke="#111" stroke-width="0.7"/>
<line x1="313.58" y1="314.50" x2="313.58" y2="315.80" stroke="#111" stroke-width="0.7"/>
<line x1="320.06" y1="314.50" x2="320.06" y2="315.80" stroke="#111" stroke-width="0.7"/>
<line x1="324.66" y1="314.50" x2="324.66" y2="315.80" stroke="#111" stroke-width="0.7"/>
<line x1="328.22" y1="314.50" x2="328.22" y2="315.80" stroke="#111" stroke-width="0.7"/>
<line x1="331.14" y1="314.50" x2="331.14" y2="315.80" stroke="#111" stroke-width="0.7"/>
<line x1="333.60" y1="314.50" x2="333.60" y2="315.80" stroke="#111" stroke-width="0.7"/>
<line x1="335.73" y1="314.50" x2="335.73" y2="315.80" stroke="#111" stroke-width="0.7"/>
<line x1="337.62" y1="314.50" x2="337.62" y2="315.80" stroke="#111" stroke-width="0.7"/>
<line x1="339.30" y1="314.50" x2="339.30" y2="316.90" stroke="#111" stroke-width="0.7"/>
<line x1="350.38" y1="314.50" x2="350.38" y2="315.80" stroke="#111" stroke-width="0.7"/>
<line x1="356.86" y1="314.50" x2="356.86" y2="315.80" stroke="#111" stroke-width="0.7"/>
<line x1="361.46" y1="314.50" x2="361.46" y2="315.80" stroke="#111" stroke-width="0.7"/>
<line x1="365.02" y1="314.50" x2="365.02" y2="315.80" stroke="#111" stroke-width="0.7"/>
<line x1="367.94" y1="314.50" x2="367.94" y2="315.80" stroke="#111" stroke-width="0.7"/>
<line x1="370.40" y1="314.50" x2="370.40" y2="315.80" stroke="#111" stroke-width="0.7"/>
<line x1="372.53" y1="314.50" x2="372.53" y2="315.80" stroke="#111" stroke-width="0.7"/>
<line x1="374.42" y1="314.50" x2="374.42" y2="315.80" stroke="#111" stroke-width="0.7"/>
<line x1="376.10" y1="314.50" x2="376.10" y2="316.90" stroke="#111" stroke-width="0.7"/>
<text x="302.50" y="325.50" font-size="6.4" text-anchor="middle" fill="#222">0.1</text>
<text x="339.30" y="325.50" font-size="6.4" text-anchor="middle" fill="#222">1</text>
<text x="376.10" y="325.50" font-size="6.4" text-anchor="middle" fill="#222">10</text>
<path d="M298.53,311.30 L300.47,311.28 L302.41,311.25 L304.35,311.22 L306.29,311.17 L308.23,311.12 L310.16,311.05 L312.10,310.97 L314.04,310.86 L315.98,310.73 L317.92,310.56 L319.86,310.36 L321.80,310.11 L323.74,309.81 L325.68,309.43 L327.62,308.98 L329.56,308.45 L331.50,307.82 L333.44,307.09 L335.38,306.25 L337.31,305.32 L339.25,304.30 L341.19,303.21 L343.13,302.07 L345.07,300.92 L347.01,299.78 L348.95,298.68 L350.89,297.66 L352.83,296.72 L354.77,295.88 L356.71,295.14 L358.65,294.50 L360.59,293.96 L362.53,293.51 L364.46,293.13 L366.40,292.82 L368.34,292.56 L370.28,292.36 L372.22,292.19 L374.16,292.06 L376.10,291.95" fill="none" stroke="#3c4370" stroke-width="1.0"/>
<path d="M309.61,307.39 V312.97 M307.71,307.39 H311.51 M307.71,312.97 H311.51" stroke="#3c4370" stroke-width="0.75" fill="none"/>
<path d="M320.71,308.32 V310.18 M318.81,308.32 H322.61 M318.81,310.18 H322.61" stroke="#3c4370" stroke-width="0.75" fill="none"/>
<path d="M331.79,306.46 V308.32 M329.89,306.46 H333.69 M329.89,308.32 H333.69" stroke="#3c4370" stroke-width="0.75" fill="none"/>
<path d="M342.87,302.74 V304.60 M340.97,302.74 H344.77 M340.97,304.60 H344.77" stroke="#3c4370" stroke-width="0.75" fill="none"/>
<path d="M353.94,289.72 V299.02 M352.04,289.72 H355.84 M352.04,299.02 H355.84" stroke="#3c4370" stroke-width="0.75" fill="none"/>
<path d="M365.02,289.72 V299.02 M363.12,289.72 H366.92 M363.12,299.02 H366.92" stroke="#3c4370" stroke-width="0.75" fill="none"/>
<path d="M376.10,284.14 V299.02 M374.20,284.14 H378.00 M374.20,299.02 H378.00" stroke="#3c4370" stroke-width="0.75" fill="none"/>
<path d="M298.53,315.43 L300.78,311.23 L296.27,311.23Z" fill="#3c4370"/>
<path d="M309.61,312.64 L311.86,308.44 L307.35,308.44Z" fill="#3c4370"/>
<path d="M320.71,311.71 L322.97,307.51 L318.46,307.51Z" fill="#3c4370"/>
<path d="M331.79,309.85 L334.04,305.65 L329.53,305.65Z" fill="#3c4370"/>
<path d="M342.87,306.13 L345.12,301.93 L340.61,301.93Z" fill="#3c4370"/>
<path d="M353.94,296.83 L356.20,292.63 L351.69,292.63Z" fill="#3c4370"/>
<path d="M365.02,296.83 L367.28,292.63 L362.77,292.63Z" fill="#3c4370"/>
<path d="M376.10,294.04 L378.36,289.84 L373.85,289.84Z" fill="#3c4370"/>
<path d="M298.53,305.25 L300.47,304.82 L302.41,304.33 L304.35,303.77 L306.29,303.12 L308.23,302.39 L310.16,301.57 L312.10,300.63 L314.04,299.58 L315.98,298.41 L317.92,297.10 L319.86,295.65 L321.80,294.07 L323.74,292.34 L325.68,290.47 L327.62,288.47 L329.56,286.34 L331.50,284.11 L333.44,281.79 L335.38,279.40 L337.31,276.97 L339.25,274.53 L341.19,272.11 L343.13,269.73 L345.07,267.41 L347.01,265.19 L348.95,263.08 L350.89,261.09 L352.83,259.24 L354.77,257.52 L356.71,255.95 L358.65,254.52 L360.59,253.23 L362.53,252.07 L364.46,251.03 L366.40,250.11 L368.34,249.29 L370.28,248.57 L372.22,247.94 L374.16,247.38 L376.10,246.90" fill="none" stroke="#3f9f45" stroke-width="1.0"/>
<path d="M298.53,300.88 V308.32 M296.63,300.88 H300.43 M296.63,308.32 H300.43" stroke="#3f9f45" stroke-width="0.75" fill="none"/>
<path d="M309.61,302.74 V304.60 M307.71,302.74 H311.51 M307.71,304.60 H311.51" stroke="#3f9f45" stroke-width="0.75" fill="none"/>
<path d="M320.71,290.65 V296.23 M318.81,290.65 H322.61 M318.81,296.23 H322.61" stroke="#3f9f45" stroke-width="0.75" fill="none"/>
<path d="M331.79,282.28 V284.14 M329.89,282.28 H333.69 M329.89,284.14 H333.69" stroke="#3f9f45" stroke-width="0.75" fill="none"/>
<path d="M342.87,271.12 V272.98 M340.97,271.12 H344.77 M340.97,272.98 H344.77" stroke="#3f9f45" stroke-width="0.75" fill="none"/>
<path d="M353.94,255.31 V259.03 M352.04,255.31 H355.84 M352.04,259.03 H355.84" stroke="#3f9f45" stroke-width="0.75" fill="none"/>
<path d="M365.02,248.80 V250.66 M363.12,248.80 H366.92 M363.12,250.66 H366.92" stroke="#3f9f45" stroke-width="0.75" fill="none"/>
<path d="M376.10,242.29 V253.45 M374.20,242.29 H378.00 M374.20,253.45 H378.00" stroke="#3f9f45" stroke-width="0.75" fill="none"/>
<path d="M298.53,302.14 L300.78,306.34 L296.27,306.34Z" fill="#3f9f45"/>
<path d="M309.61,301.21 L311.86,305.41 L307.35,305.41Z" fill="#3f9f45"/>
<path d="M320.71,290.98 L322.97,295.18 L318.46,295.18Z" fill="#3f9f45"/>
<path d="M331.79,280.75 L334.04,284.95 L329.53,284.95Z" fill="#3f9f45"/>
<path d="M342.87,269.59 L345.12,273.79 L340.61,273.79Z" fill="#3f9f45"/>
<path d="M353.94,254.71 L356.20,258.91 L351.69,258.91Z" fill="#3f9f45"/>
<path d="M365.02,247.27 L367.28,251.47 L362.77,251.47Z" fill="#3f9f45"/>
<path d="M376.10,245.41 L378.36,249.61 L373.85,249.61Z" fill="#3f9f45"/>
<path d="M298.53,312.29 L300.47,312.27 L302.41,312.24 L304.35,312.21 L306.29,312.18 L308.23,312.14 L310.16,312.09 L312.10,312.03 L314.04,311.97 L315.98,311.89 L317.92,311.80 L319.86,311.69 L321.80,311.57 L323.74,311.43 L325.68,311.27 L327.62,311.08 L329.56,310.87 L331.50,310.62 L333.44,310.35 L335.38,310.04 L337.31,309.69 L339.25,309.31 L341.19,308.89 L343.13,308.43 L345.07,307.94 L347.01,307.42 L348.95,306.87 L350.89,306.30 L352.83,305.72 L354.77,305.13 L356.71,304.54 L358.65,303.97 L360.59,303.41 L362.53,302.88 L364.46,302.38 L366.40,301.91 L368.34,301.47 L370.28,301.08 L372.22,300.72 L374.16,300.40 L376.10,300.11" fill="none" stroke="#b8102f" stroke-width="1.0"/>
<path d="M309.61,310.18 V312.04 M307.71,310.18 H311.51 M307.71,312.04 H311.51" stroke="#b8102f" stroke-width="0.75" fill="none"/>
<path d="M320.71,311.11 V312.97 M318.81,311.11 H322.61 M318.81,312.97 H322.61" stroke="#b8102f" stroke-width="0.75" fill="none"/>
<path d="M331.79,309.25 V311.11 M329.89,309.25 H333.69 M329.89,311.11 H333.69" stroke="#b8102f" stroke-width="0.75" fill="none"/>
<path d="M342.87,308.32 V310.18 M340.97,308.32 H344.77 M340.97,310.18 H344.77" stroke="#b8102f" stroke-width="0.75" fill="none"/>
<path d="M353.94,303.67 V305.53 M352.04,303.67 H355.84 M352.04,305.53 H355.84" stroke="#b8102f" stroke-width="0.75" fill="none"/>
<path d="M365.02,301.81 V303.67 M363.12,301.81 H366.92 M363.12,303.67 H366.92" stroke="#b8102f" stroke-width="0.75" fill="none"/>
<path d="M376.10,296.23 V303.67 M374.20,296.23 H378.00 M374.20,303.67 H378.00" stroke="#b8102f" stroke-width="0.75" fill="none"/>
<rect x="296.48" y="310.92" width="4.10" height="4.10" fill="#b8102f"/>
<rect x="307.56" y="309.06" width="4.10" height="4.10" fill="#b8102f"/>
<rect x="318.66" y="309.99" width="4.10" height="4.10" fill="#b8102f"/>
<rect x="329.74" y="308.13" width="4.10" height="4.10" fill="#b8102f"/>
<rect x="340.82" y="307.20" width="4.10" height="4.10" fill="#b8102f"/>
<rect x="351.89" y="302.55" width="4.10" height="4.10" fill="#b8102f"/>
<rect x="362.97" y="300.69" width="4.10" height="4.10" fill="#b8102f"/>
<rect x="374.05" y="297.90" width="4.10" height="4.10" fill="#b8102f"/>
<text x="339.30" y="213.10" font-size="8.6" text-anchor="middle">Day 6</text>
<text x="271.30" y="265.70" font-size="8.8" text-anchor="middle" fill="#222" textLength="63" lengthAdjust="spacingAndGlyphs" transform="rotate(-90 271.30 265.70)">% specific <tspan font-size="5.6" dy="-3.2">51</tspan><tspan dy="3.2">Cr release</tspan></text>
<text x="339.60" y="336.30" font-size="8.0" text-anchor="middle" fill="#222" textLength="23.5" lengthAdjust="spacingAndGlyphs">E:T ratio</text>
<line x1="417.70" y1="300.32" x2="512.80" y2="300.32" stroke="#b3babf" stroke-width="0.75"/>
<path d="M417.70,220.40 V314.50 H513.30" fill="none" stroke="#111" stroke-width="1"/>
<line x1="415.50" y1="313.90" x2="417.70" y2="313.90" stroke="#111" stroke-width="0.8"/>
<text x="412.80" y="316.30" font-size="6.7" text-anchor="end" fill="#222">0</text>
<line x1="415.50" y1="290.65" x2="417.70" y2="290.65" stroke="#111" stroke-width="0.8"/>
<text x="412.80" y="293.05" font-size="6.7" text-anchor="end" fill="#222">25</text>
<line x1="415.50" y1="267.40" x2="417.70" y2="267.40" stroke="#111" stroke-width="0.8"/>
<text x="412.80" y="269.80" font-size="6.7" text-anchor="end" fill="#222">50</text>
<line x1="415.50" y1="244.15" x2="417.70" y2="244.15" stroke="#111" stroke-width="0.8"/>
<text x="412.80" y="246.55" font-size="6.7" text-anchor="end" fill="#222">75</text>
<line x1="415.50" y1="220.90" x2="417.70" y2="220.90" stroke="#111" stroke-width="0.8"/>
<text x="412.80" y="223.30" font-size="6.7" text-anchor="end" fill="#222">100</text>
<line x1="419.59" y1="314.50" x2="419.59" y2="315.80" stroke="#111" stroke-width="0.7"/>
<line x1="422.07" y1="314.50" x2="422.07" y2="315.80" stroke="#111" stroke-width="0.7"/>
<line x1="424.21" y1="314.50" x2="424.21" y2="315.80" stroke="#111" stroke-width="0.7"/>
<line x1="426.11" y1="314.50" x2="426.11" y2="315.80" stroke="#111" stroke-width="0.7"/>
<line x1="427.80" y1="314.50" x2="427.80" y2="316.90" stroke="#111" stroke-width="0.7"/>
<line x1="438.94" y1="314.50" x2="438.94" y2="315.80" stroke="#111" stroke-width="0.7"/>
<line x1="445.45" y1="314.50" x2="445.45" y2="315.80" stroke="#111" stroke-width="0.7"/>
<line x1="450.08" y1="314.50" x2="450.08" y2="315.80" stroke="#111" stroke-width="0.7"/>
<line x1="453.66" y1="314.50" x2="453.66" y2="315.80" stroke="#111" stroke-width="0.7"/>
<line x1="456.59" y1="314.50" x2="456.59" y2="315.80" stroke="#111" stroke-width="0.7"/>
<line x1="459.07" y1="314.50" x2="459.07" y2="315.80" stroke="#111" stroke-width="0.7"/>
<line x1="461.21" y1="314.50" x2="461.21" y2="315.80" stroke="#111" stroke-width="0.7"/>
<line x1="463.11" y1="314.50" x2="463.11" y2="315.80" stroke="#111" stroke-width="0.7"/>
<line x1="464.80" y1="314.50" x2="464.80" y2="316.90" stroke="#111" stroke-width="0.7"/>
<line x1="475.94" y1="314.50" x2="475.94" y2="315.80" stroke="#111" stroke-width="0.7"/>
<line x1="482.45" y1="314.50" x2="482.45" y2="315.80" stroke="#111" stroke-width="0.7"/>
<line x1="487.08" y1="314.50" x2="487.08" y2="315.80" stroke="#111" stroke-width="0.7"/>
<line x1="490.66" y1="314.50" x2="490.66" y2="315.80" stroke="#111" stroke-width="0.7"/>
<line x1="493.59" y1="314.50" x2="493.59" y2="315.80" stroke="#111" stroke-width="0.7"/>
<line x1="496.07" y1="314.50" x2="496.07" y2="315.80" stroke="#111" stroke-width="0.7"/>
<line x1="498.21" y1="314.50" x2="498.21" y2="315.80" stroke="#111" stroke-width="0.7"/>
<line x1="500.11" y1="314.50" x2="500.11" y2="315.80" stroke="#111" stroke-width="0.7"/>
<line x1="501.80" y1="314.50" x2="501.80" y2="316.90" stroke="#111" stroke-width="0.7"/>
<line x1="512.94" y1="314.50" x2="512.94" y2="315.80" stroke="#111" stroke-width="0.7"/>
<text x="427.80" y="325.50" font-size="6.4" text-anchor="middle" fill="#222">0.1</text>
<text x="464.80" y="325.50" font-size="6.4" text-anchor="middle" fill="#222">1</text>
<text x="501.80" y="325.50" font-size="6.4" text-anchor="middle" fill="#222">10</text>
<path d="M423.81,313.16 L425.76,313.02 L427.71,312.85 L429.66,312.67 L431.61,312.47 L433.56,312.25 L435.51,312.00 L437.46,311.73 L439.41,311.43 L441.36,311.10 L443.31,310.74 L445.26,310.34 L447.21,309.90 L449.16,309.42 L451.10,308.89 L453.05,308.32 L455.00,307.68 L456.95,306.99 L458.90,306.24 L460.85,305.42 L462.80,304.53 L464.75,303.56 L466.70,302.51 L468.65,301.38 L470.60,300.16 L472.55,298.85 L474.50,297.45 L476.45,295.96 L478.40,294.36 L480.35,292.67 L482.30,290.89 L484.25,289.01 L486.20,287.05 L488.15,285.00 L490.10,282.87 L492.05,280.67 L494.00,278.41 L495.95,276.10 L497.90,273.75 L499.85,271.37 L501.80,268.97" fill="none" stroke="#3c4370" stroke-width="1.0"/>
<path d="M479.52,281.35 V296.23 M477.62,281.35 H481.42 M477.62,296.23 H481.42" stroke="#3c4370" stroke-width="0.75" fill="none"/>
<path d="M490.66,277.63 V292.51 M488.76,277.63 H492.56 M488.76,292.51 H492.56" stroke="#3c4370" stroke-width="0.75" fill="none"/>
<path d="M501.80,259.03 V277.63 M499.90,259.03 H503.70 M499.90,277.63 H503.70" stroke="#3c4370" stroke-width="0.75" fill="none"/>
<path d="M423.81,315.43 L426.06,311.23 L421.55,311.23Z" fill="#3c4370"/>
<path d="M434.95,315.43 L437.20,311.23 L432.69,311.23Z" fill="#3c4370"/>
<path d="M446.11,309.85 L448.36,305.65 L443.85,305.65Z" fill="#3c4370"/>
<path d="M457.25,311.71 L459.50,307.51 L454.99,307.51Z" fill="#3c4370"/>
<path d="M468.39,306.13 L470.64,301.93 L466.13,301.93Z" fill="#3c4370"/>
<path d="M479.52,291.25 L481.78,287.05 L477.27,287.05Z" fill="#3c4370"/>
<path d="M490.66,287.53 L492.92,283.33 L488.41,283.33Z" fill="#3c4370"/>
<path d="M501.80,270.79 L504.06,266.59 L499.55,266.59Z" fill="#3c4370"/>
<path d="M423.81,306.49 L425.76,305.53 L427.71,304.45 L429.66,303.24 L431.61,301.90 L433.56,300.42 L435.51,298.79 L437.46,297.00 L439.41,295.06 L441.36,292.97 L443.31,290.72 L445.26,288.34 L447.21,285.83 L449.16,283.21 L451.10,280.50 L453.05,277.74 L455.00,274.93 L456.95,272.12 L458.90,269.34 L460.85,266.60 L462.80,263.95 L464.75,261.39 L466.70,258.95 L468.65,256.64 L470.60,254.48 L472.55,252.47 L474.50,250.62 L476.45,248.92 L478.40,247.38 L480.35,245.98 L482.30,244.72 L484.25,243.59 L486.20,242.58 L488.15,241.68 L490.10,240.88 L492.05,240.18 L494.00,239.56 L495.95,239.01 L497.90,238.53 L499.85,238.11 L501.80,237.75" fill="none" stroke="#3f9f45" stroke-width="1.0"/>
<path d="M423.81,303.67 V307.39 M421.91,303.67 H425.71 M421.91,307.39 H425.71" stroke="#3f9f45" stroke-width="0.75" fill="none"/>
<path d="M434.95,295.30 V306.46 M433.05,295.30 H436.85 M433.05,306.46 H436.85" stroke="#3f9f45" stroke-width="0.75" fill="none"/>
<path d="M446.11,283.21 V290.65 M444.21,283.21 H448.01 M444.21,290.65 H448.01" stroke="#3f9f45" stroke-width="0.75" fill="none"/>
<path d="M457.25,268.33 V273.91 M455.35,268.33 H459.15 M455.35,273.91 H459.15" stroke="#3f9f45" stroke-width="0.75" fill="none"/>
<path d="M468.39,252.52 V259.96 M466.49,252.52 H470.29 M466.49,259.96 H470.29" stroke="#3f9f45" stroke-width="0.75" fill="none"/>
<path d="M479.52,246.01 V251.59 M477.62,246.01 H481.42 M477.62,251.59 H481.42" stroke="#3f9f45" stroke-width="0.75" fill="none"/>
<path d="M490.66,237.64 V241.36 M488.76,237.64 H492.56 M488.76,241.36 H492.56" stroke="#3f9f45" stroke-width="0.75" fill="none"/>
<path d="M423.81,303.07 L426.06,307.27 L421.55,307.27Z" fill="#3f9f45"/>
<path d="M434.95,298.42 L437.20,302.62 L432.69,302.62Z" fill="#3f9f45"/>
<path d="M446.11,284.47 L448.36,288.67 L443.85,288.67Z" fill="#3f9f45"/>
<path d="M457.25,268.66 L459.50,272.86 L454.99,272.86Z" fill="#3f9f45"/>
<path d="M468.39,253.78 L470.64,257.98 L466.13,257.98Z" fill="#3f9f45"/>
<path d="M479.52,246.34 L481.78,250.54 L477.27,250.54Z" fill="#3f9f45"/>
<path d="M490.66,237.04 L492.92,241.24 L488.41,241.24Z" fill="#3f9f45"/>
<path d="M501.80,235.18 L504.06,239.38 L499.55,239.38Z" fill="#3f9f45"/>
<path d="M423.81,313.97 L425.76,313.91 L427.71,313.84 L429.66,313.76 L431.61,313.68 L433.56,313.59 L435.51,313.49 L437.46,313.37 L439.41,313.25 L441.36,313.11 L443.31,312.95 L445.26,312.78 L447.21,312.60 L449.16,312.39 L451.10,312.16 L453.05,311.91 L455.00,311.64 L456.95,311.34 L458.90,311.01 L460.85,310.66 L462.80,310.27 L464.75,309.85 L466.70,309.40 L468.65,308.91 L470.60,308.39 L472.55,307.83 L474.50,307.23 L476.45,306.60 L478.40,305.94 L480.35,305.24 L482.30,304.50 L484.25,303.74 L486.20,302.95 L488.15,302.14 L490.10,301.32 L492.05,300.47 L494.00,299.62 L495.95,298.77 L497.90,297.91 L499.85,297.07 L501.80,296.23" fill="none" stroke="#b8102f" stroke-width="1.0"/>
<path d="M468.39,305.53 V309.25 M466.49,305.53 H470.29 M466.49,309.25 H470.29" stroke="#b8102f" stroke-width="0.75" fill="none"/>
<path d="M479.52,302.74 V310.18 M477.62,302.74 H481.42 M477.62,310.18 H481.42" stroke="#b8102f" stroke-width="0.75" fill="none"/>
<path d="M490.66,296.23 V305.53 M488.76,296.23 H492.56 M488.76,305.53 H492.56" stroke="#b8102f" stroke-width="0.75" fill="none"/>
<path d="M501.80,293.44 V299.02 M499.90,293.44 H503.70 M499.90,299.02 H503.70" stroke="#b8102f" stroke-width="0.75" fill="none"/>
<rect x="421.76" y="311.85" width="4.10" height="4.10" fill="#b8102f"/>
<rect x="432.90" y="310.92" width="4.10" height="4.10" fill="#b8102f"/>
<rect x="444.06" y="311.38" width="4.10" height="4.10" fill="#b8102f"/>
<rect x="455.20" y="309.99" width="4.10" height="4.10" fill="#b8102f"/>
<rect x="466.34" y="305.34" width="4.10" height="4.10" fill="#b8102f"/>
<rect x="477.47" y="304.41" width="4.10" height="4.10" fill="#b8102f"/>
<rect x="488.61" y="298.83" width="4.10" height="4.10" fill="#b8102f"/>
<rect x="499.75" y="294.18" width="4.10" height="4.10" fill="#b8102f"/>
<text x="464.80" y="213.10" font-size="8.6" text-anchor="middle">Day 7</text>
<text x="396.80" y="265.70" font-size="8.8" text-anchor="middle" fill="#222" textLength="63" lengthAdjust="spacingAndGlyphs" transform="rotate(-90 396.80 265.70)">% specific <tspan font-size="5.6" dy="-3.2">51</tspan><tspan dy="3.2">Cr release</tspan></text>
<text x="465.10" y="336.30" font-size="8.0" text-anchor="middle" fill="#222" textLength="23.5" lengthAdjust="spacingAndGlyphs">E:T ratio</text>
<g>
<ellipse cx="178.80" cy="49.10" rx="9.00" ry="4.20" fill="#777" opacity="0.5" filter="url(#b2)" transform="rotate(-4 178.80 49.10)"/>
<ellipse cx="179.30" cy="48.90" rx="4.20" ry="2.10" fill="#000" opacity="1.0" filter="url(#b1)" transform="rotate(-4 179.30 48.90)"/>
</g>
<line x1="188.30" y1="32.00" x2="188.30" y2="84.30" stroke="#666" stroke-width="0.6"/>
<line x1="158.00" y1="56.20" x2="211.40" y2="56.20" stroke="#666" stroke-width="0.6"/>
<rect x="158.00" y="32.00" width="53.40" height="52.30" fill="none" stroke="#222" stroke-width="0.8"/>
<path d="M156.40,41.60H158.00M156.40,52.60H158.00M156.40,65.50H158.00M156.40,73.80H158.00M156.40,81.80H158.00M157.10,44.35H158.00M157.10,47.10H158.00M157.10,49.85H158.00M157.10,55.83H158.00M157.10,59.05H158.00M157.10,62.27H158.00M157.10,67.58H158.00M157.10,69.65H158.00M157.10,71.72H158.00M157.10,75.80H158.00M157.10,77.80H158.00M157.10,79.80H158.00M161.30,84.30V85.90M170.20,84.30V85.90M179.30,84.30V85.90M193.50,84.30V85.90M206.20,84.30V85.90M163.53,84.30V85.20M165.75,84.30V85.20M167.97,84.30V85.20M172.47,84.30V85.20M174.75,84.30V85.20M177.03,84.30V85.20M182.85,84.30V85.20M186.40,84.30V85.20M189.95,84.30V85.20M196.68,84.30V85.20M199.85,84.30V85.20M203.02,84.30V85.20" stroke="#222" stroke-width="0.5" fill="none"/>
<ellipse cx="157.40" cy="73.80" rx="0.9" ry="1.1" fill="#000"/>
<ellipse cx="169.90" cy="84.90" rx="1.3" ry="0.9" fill="#000"/>
<text x="160.90" y="40.10" font-size="5.8" text-anchor="start" fill="#222">100</text>
<text x="208.80" y="40.10" font-size="5.8" text-anchor="end" fill="#222">0</text>
<text x="160.90" y="82.50" font-size="5.8" text-anchor="start" fill="#222">0</text>
<text x="208.80" y="82.50" font-size="5.8" text-anchor="end" fill="#222">0</text>
<text x="153.00" y="43.80" font-size="6.3" text-anchor="end" fill="#222">10<tspan font-size="4.6" dy="-2.4">5</tspan></text>
<text x="153.00" y="54.80" font-size="6.3" text-anchor="end" fill="#222">10<tspan font-size="4.6" dy="-2.4">4</tspan></text>
<text x="153.00" y="67.70" font-size="6.3" text-anchor="end" fill="#222">10<tspan font-size="4.6" dy="-2.4">3</tspan></text>
<text x="153.00" y="76.00" font-size="6.3" text-anchor="end" fill="#222">0</text>
<text x="153.00" y="84.00" font-size="6.3" text-anchor="end" fill="#222">&#8722;10<tspan font-size="4.6" dy="-2.4">3</tspan></text>
<text x="161.90" y="94.50" font-size="6.3" text-anchor="middle" fill="#222">&#8722;10<tspan font-size="4.6" dy="-2.4">3</tspan></text>
<text x="170.20" y="94.50" font-size="6.3" text-anchor="middle" fill="#222">0</text>
<text x="179.90" y="94.50" font-size="6.3" text-anchor="middle" fill="#222">10<tspan font-size="4.6" dy="-2.4">3</tspan></text>
<text x="194.10" y="94.50" font-size="6.3" text-anchor="middle" fill="#222">10<tspan font-size="4.6" dy="-2.4">4</tspan></text>
<text x="206.80" y="94.50" font-size="6.3" text-anchor="middle" fill="#222">10<tspan font-size="4.6" dy="-2.4">5</tspan></text>
<text x="184.70" y="26.40" font-size="8.4" text-anchor="middle" textLength="40.5" lengthAdjust="spacingAndGlyphs">No targets</text>
<g>
<ellipse cx="241.50" cy="49.30" rx="9.00" ry="4.20" fill="#777" opacity="0.5" filter="url(#b2)" transform="rotate(-4 241.50 49.30)"/>
<ellipse cx="242.00" cy="49.10" rx="4.20" ry="2.10" fill="#000" opacity="1.0" filter="url(#b1)" transform="rotate(-4 242.00 49.10)"/>
</g>
<line x1="245.50" y1="31.70" x2="245.50" y2="84.40" stroke="#666" stroke-width="0.6"/>
<line x1="214.50" y1="55.80" x2="268.70" y2="55.80" stroke="#666" stroke-width="0.6"/>
<rect x="214.50" y="31.70" width="54.20" height="52.70" fill="none" stroke="#222" stroke-width="0.8"/>
<path d="M213.40,35.75H214.50M213.40,39.81H214.50M213.40,43.86H214.50M213.40,47.92H214.50M213.40,51.97H214.50M213.40,56.02H214.50M213.40,60.08H214.50M213.40,64.13H214.50M213.40,68.18H214.50M213.40,72.24H214.50M213.40,76.29H214.50M213.40,80.35H214.50M214.50,84.40V86.00M225.34,84.40V86.00M236.18,84.40V86.00M247.02,84.40V86.00M257.86,84.40V86.00M217.21,84.40V85.30M219.92,84.40V85.30M222.63,84.40V85.30M228.05,84.40V85.30M230.76,84.40V85.30M233.47,84.40V85.30M238.89,84.40V85.30M241.60,84.40V85.30M244.31,84.40V85.30M249.73,84.40V85.30M252.44,84.40V85.30M255.15,84.40V85.30" stroke="#222" stroke-width="0.5" fill="none"/>
<ellipse cx="213.90" cy="73.80" rx="0.9" ry="1.1" fill="#000"/>
<ellipse cx="226.50" cy="85.00" rx="1.3" ry="0.9" fill="#000"/>
<text x="217.40" y="39.80" font-size="5.8" text-anchor="start" fill="#222">86</text>
<text x="266.10" y="39.80" font-size="5.8" text-anchor="end" fill="#222">13</text>
<text x="217.40" y="82.60" font-size="5.8" text-anchor="start" fill="#222">0</text>
<text x="266.10" y="82.60" font-size="5.8" text-anchor="end" fill="#222">0</text>
<text x="241.60" y="26.40" font-size="8.4" text-anchor="middle"><tspan font-style="italic">Unc13d</tspan> KO</text>
<g>
<ellipse cx="303.00" cy="48.90" rx="9.00" ry="4.20" fill="#777" opacity="0.5" filter="url(#b2)" transform="rotate(-4 303.00 48.90)"/>
<ellipse cx="303.50" cy="48.70" rx="4.20" ry="2.10" fill="#000" opacity="1.0" filter="url(#b1)" transform="rotate(-4 303.50 48.70)"/>
</g>
<line x1="302.50" y1="31.70" x2="302.50" y2="84.40" stroke="#666" stroke-width="0.6"/>
<line x1="271.20" y1="55.80" x2="325.40" y2="55.80" stroke="#666" stroke-width="0.6"/>
<rect x="271.20" y="31.70" width="54.20" height="52.70" fill="none" stroke="#222" stroke-width="0.8"/>
<path d="M270.10,35.75H271.20M270.10,39.81H271.20M270.10,43.86H271.20M270.10,47.92H271.20M270.10,51.97H271.20M270.10,56.02H271.20M270.10,60.08H271.20M270.10,64.13H271.20M270.10,68.18H271.20M270.10,72.24H271.20M270.10,76.29H271.20M270.10,80.35H271.20M271.20,84.40V86.00M282.04,84.40V86.00M292.88,84.40V86.00M303.72,84.40V86.00M314.56,84.40V86.00M273.91,84.40V85.30M276.62,84.40V85.30M279.33,84.40V85.30M284.75,84.40V85.30M287.46,84.40V85.30M290.17,84.40V85.30M295.59,84.40V85.30M298.30,84.40V85.30M301.01,84.40V85.30M306.43,84.40V85.30M309.14,84.40V85.30M311.85,84.40V85.30" stroke="#222" stroke-width="0.5" fill="none"/>
<ellipse cx="270.60" cy="73.80" rx="0.9" ry="1.1" fill="#000"/>
<ellipse cx="283.50" cy="85.00" rx="1.3" ry="0.9" fill="#000"/>
<text x="274.10" y="39.80" font-size="5.8" text-anchor="start" fill="#222">51</text>
<text x="322.80" y="39.80" font-size="5.8" text-anchor="end" fill="#222">49</text>
<text x="274.10" y="82.60" font-size="5.8" text-anchor="start" fill="#222">0</text>
<text x="322.80" y="82.60" font-size="5.8" text-anchor="end" fill="#222">0</text>
<text x="298.30" y="26.40" font-size="8.4" text-anchor="middle">R411Q (P6)</text>
<g>
<ellipse cx="245.00" cy="128.60" rx="9.00" ry="4.20" fill="#777" opacity="0.5" filter="url(#b2)" transform="rotate(-4 245.00 128.60)"/>
<ellipse cx="245.50" cy="128.40" rx="4.20" ry="2.10" fill="#000" opacity="1.0" filter="url(#b1)" transform="rotate(-4 245.50 128.40)"/>
</g>
<line x1="245.50" y1="111.30" x2="245.50" y2="164.40" stroke="#666" stroke-width="0.6"/>
<line x1="214.50" y1="135.50" x2="268.70" y2="135.50" stroke="#666" stroke-width="0.6"/>
<rect x="214.50" y="111.30" width="54.20" height="53.10" fill="none" stroke="#222" stroke-width="0.8"/>
<path d="M212.90,120.90H214.50M212.90,131.90H214.50M212.90,144.80H214.50M212.90,153.10H214.50M212.90,161.10H214.50M213.60,123.65H214.50M213.60,126.40H214.50M213.60,129.15H214.50M213.60,135.12H214.50M213.60,138.35H214.50M213.60,141.58H214.50M213.60,146.88H214.50M213.60,148.95H214.50M213.60,151.03H214.50M213.60,155.10H214.50M213.60,157.10H214.50M213.60,159.10H214.50M217.80,164.40V166.00M226.70,164.40V166.00M235.80,164.40V166.00M250.00,164.40V166.00M262.70,164.40V166.00M220.03,164.40V165.30M222.25,164.40V165.30M224.47,164.40V165.30M228.97,164.40V165.30M231.25,164.40V165.30M233.53,164.40V165.30M239.35,164.40V165.30M242.90,164.40V165.30M246.45,164.40V165.30M253.18,164.40V165.30M256.35,164.40V165.30M259.52,164.40V165.30" stroke="#222" stroke-width="0.5" fill="none"/>
<ellipse cx="213.90" cy="153.20" rx="0.9" ry="1.1" fill="#000"/>
<ellipse cx="226.50" cy="165.00" rx="1.3" ry="0.9" fill="#000"/>
<text x="217.40" y="119.40" font-size="5.8" text-anchor="start" fill="#222">51</text>
<text x="266.10" y="119.40" font-size="5.8" text-anchor="end" fill="#222">49</text>
<text x="217.40" y="162.60" font-size="5.8" text-anchor="start" fill="#222">0</text>
<text x="266.10" y="162.60" font-size="5.8" text-anchor="end" fill="#222">0</text>
<text x="209.50" y="123.10" font-size="6.3" text-anchor="end" fill="#222">10<tspan font-size="4.6" dy="-2.4">5</tspan></text>
<text x="209.50" y="134.10" font-size="6.3" text-anchor="end" fill="#222">10<tspan font-size="4.6" dy="-2.4">4</tspan></text>
<text x="209.50" y="147.00" font-size="6.3" text-anchor="end" fill="#222">10<tspan font-size="4.6" dy="-2.4">3</tspan></text>
<text x="209.50" y="155.30" font-size="6.3" text-anchor="end" fill="#222">0</text>
<text x="209.50" y="163.30" font-size="6.3" text-anchor="end" fill="#222">&#8722;10<tspan font-size="4.6" dy="-2.4">3</tspan></text>
<text x="218.40" y="174.60" font-size="6.3" text-anchor="middle" fill="#222">&#8722;10<tspan font-size="4.6" dy="-2.4">3</tspan></text>
<text x="226.70" y="174.60" font-size="6.3" text-anchor="middle" fill="#222">0</text>
<text x="236.40" y="174.60" font-size="6.3" text-anchor="middle" fill="#222">10<tspan font-size="4.6" dy="-2.4">3</tspan></text>
<text x="250.60" y="174.60" font-size="6.3" text-anchor="middle" fill="#222">10<tspan font-size="4.6" dy="-2.4">4</tspan></text>
<text x="263.30" y="174.60" font-size="6.3" text-anchor="middle" fill="#222">10<tspan font-size="4.6" dy="-2.4">5</tspan></text>
<text x="241.60" y="106.30" font-size="8.4" text-anchor="middle">MUNC13-4 WT</text>
<g>
<ellipse cx="299.00" cy="128.20" rx="9.00" ry="4.20" fill="#777" opacity="0.5" filter="url(#b2)" transform="rotate(-4 299.00 128.20)"/>
<ellipse cx="299.50" cy="128.00" rx="4.20" ry="2.10" fill="#000" opacity="1.0" filter="url(#b1)" transform="rotate(-4 299.50 128.00)"/>
</g>
<line x1="302.50" y1="111.30" x2="302.50" y2="164.40" stroke="#666" stroke-width="0.6"/>
<line x1="271.20" y1="135.50" x2="325.40" y2="135.50" stroke="#666" stroke-width="0.6"/>
<rect x="271.20" y="111.30" width="54.20" height="53.10" fill="none" stroke="#222" stroke-width="0.8"/>
<path d="M270.10,115.38H271.20M270.10,119.47H271.20M270.10,123.55H271.20M270.10,127.64H271.20M270.10,131.72H271.20M270.10,135.81H271.20M270.10,139.89H271.20M270.10,143.98H271.20M270.10,148.06H271.20M270.10,152.15H271.20M270.10,156.23H271.20M270.10,160.32H271.20M274.50,164.40V166.00M283.40,164.40V166.00M292.50,164.40V166.00M306.70,164.40V166.00M319.40,164.40V166.00M276.73,164.40V165.30M278.95,164.40V165.30M281.17,164.40V165.30M285.67,164.40V165.30M287.95,164.40V165.30M290.23,164.40V165.30M296.05,164.40V165.30M299.60,164.40V165.30M303.15,164.40V165.30M309.88,164.40V165.30M313.05,164.40V165.30M316.22,164.40V165.30" stroke="#222" stroke-width="0.5" fill="none"/>
<ellipse cx="270.60" cy="153.20" rx="0.9" ry="1.1" fill="#000"/>
<ellipse cx="283.50" cy="165.00" rx="1.3" ry="0.9" fill="#000"/>
<text x="274.10" y="119.40" font-size="5.8" text-anchor="start" fill="#222">85</text>
<text x="322.80" y="119.40" font-size="5.8" text-anchor="end" fill="#222">15</text>
<text x="274.10" y="162.60" font-size="5.8" text-anchor="start" fill="#222">0</text>
<text x="322.80" y="162.60" font-size="5.8" text-anchor="end" fill="#222">0</text>
<text x="275.10" y="174.60" font-size="6.3" text-anchor="middle" fill="#222">&#8722;10<tspan font-size="4.6" dy="-2.4">3</tspan></text>
<text x="283.40" y="174.60" font-size="6.3" text-anchor="middle" fill="#222">0</text>
<text x="293.10" y="174.60" font-size="6.3" text-anchor="middle" fill="#222">10<tspan font-size="4.6" dy="-2.4">3</tspan></text>
<text x="307.30" y="174.60" font-size="6.3" text-anchor="middle" fill="#222">10<tspan font-size="4.6" dy="-2.4">4</tspan></text>
<text x="320.00" y="174.60" font-size="6.3" text-anchor="middle" fill="#222">10<tspan font-size="4.6" dy="-2.4">5</tspan></text>
<text x="298.30" y="106.30" font-size="8.4" text-anchor="middle">G863D (P6)</text>
<path d="M152.80,132.80 V163.50 H183.20" fill="none" stroke="#222" stroke-width="1.0"/>
<path d="M152.80,129.80 L154.80,134.40 L150.80,134.40Z" fill="#222"/>
<path d="M186.20,163.50 L181.60,161.50 L181.60,165.50Z" fill="#222"/>
<text x="147.80" y="146.30" font-size="7.4" text-anchor="middle" fill="#222" textLength="15.5" lengthAdjust="spacingAndGlyphs" transform="rotate(-90 147.80 146.30)">CD8a</text>
<text x="169.70" y="173.60" font-size="7.4" text-anchor="middle" fill="#222" textLength="21.4" lengthAdjust="spacingAndGlyphs">LAMP-1</text>
<g>
<ellipse cx="77.80" cy="399.50" rx="3.40" ry="6.40" fill="#777" opacity="0.55" filter="url(#b2)" transform="rotate(0 77.80 399.50)"/>
<ellipse cx="77.80" cy="398.80" rx="1.90" ry="3.80" fill="#000" opacity="1.0" filter="url(#b1)" transform="rotate(0 77.80 398.80)"/>
</g>
<line x1="82.30" y1="382.40" x2="82.30" y2="435.50" stroke="#666" stroke-width="0.6"/>
<line x1="61.30" y1="408.30" x2="114.90" y2="408.30" stroke="#666" stroke-width="0.6"/>
<rect x="61.30" y="382.40" width="53.60" height="53.10" fill="none" stroke="#222" stroke-width="0.8"/>
<path d="M59.70,387.40H61.30M59.70,399.70H61.30M59.70,414.40H61.30M59.70,423.20H61.30M59.70,431.90H61.30M60.40,390.47H61.30M60.40,393.55H61.30M60.40,396.62H61.30M60.40,403.38H61.30M60.40,407.05H61.30M60.40,410.72H61.30M60.40,416.60H61.30M60.40,418.80H61.30M60.40,421.00H61.30M60.40,425.38H61.30M60.40,427.55H61.30M60.40,429.72H61.30M63.80,435.50V437.10M74.80,435.50V437.10M84.30,435.50V437.10M100.30,435.50V437.10M66.55,435.50V436.40M69.30,435.50V436.40M72.05,435.50V436.40M77.17,435.50V436.40M79.55,435.50V436.40M81.92,435.50V436.40M88.30,435.50V436.40M92.30,435.50V436.40M96.30,435.50V436.40" stroke="#222" stroke-width="0.5" fill="none"/>
<ellipse cx="60.70" cy="422.80" rx="0.9" ry="1.1" fill="#000"/>
<ellipse cx="74.50" cy="436.10" rx="1.3" ry="0.9" fill="#000"/>
<text x="64.20" y="391.20" font-size="5.8" text-anchor="start" fill="#222">98</text>
<text x="112.30" y="391.20" font-size="5.8" text-anchor="end" fill="#222">2</text>
<text x="64.20" y="433.70" font-size="5.8" text-anchor="start" fill="#222">0</text>
<text x="112.30" y="433.70" font-size="5.8" text-anchor="end" fill="#222">0</text>
<text x="56.30" y="389.60" font-size="6.3" text-anchor="end" fill="#222">10<tspan font-size="4.6" dy="-2.4">5</tspan></text>
<text x="56.30" y="401.90" font-size="6.3" text-anchor="end" fill="#222">10<tspan font-size="4.6" dy="-2.4">4</tspan></text>
<text x="56.30" y="416.60" font-size="6.3" text-anchor="end" fill="#222">10<tspan font-size="4.6" dy="-2.4">3</tspan></text>
<text x="56.30" y="425.40" font-size="6.3" text-anchor="end" fill="#222">0</text>
<text x="56.30" y="434.10" font-size="6.3" text-anchor="end" fill="#222">&#8722;10<tspan font-size="4.6" dy="-2.4">3</tspan></text>
<text x="64.40" y="445.70" font-size="6.3" text-anchor="middle" fill="#222">&#8722;10<tspan font-size="4.6" dy="-2.4">3</tspan></text>
<text x="74.80" y="445.70" font-size="6.3" text-anchor="middle" fill="#222">0</text>
<text x="84.90" y="445.70" font-size="6.3" text-anchor="middle" fill="#222">10<tspan font-size="4.6" dy="-2.4">3</tspan></text>
<text x="100.90" y="445.70" font-size="6.3" text-anchor="middle" fill="#222">10<tspan font-size="4.6" dy="-2.4">4</tspan></text>
<text x="88.10" y="377.30" font-size="8.4" text-anchor="middle" textLength="40.5" lengthAdjust="spacingAndGlyphs">No targets</text>
<g>
<ellipse cx="76.00" cy="497.00" rx="4.40" ry="7.60" fill="#777" opacity="0.6" filter="url(#b2)" transform="rotate(0 76.00 497.00)"/>
<ellipse cx="75.30" cy="493.60" rx="2.30" ry="3.90" fill="#000" opacity="1.0" filter="url(#b1)" transform="rotate(0 75.30 493.60)"/>
</g>
<line x1="84.40" y1="477.30" x2="84.40" y2="530.90" stroke="#666" stroke-width="0.6"/>
<line x1="61.30" y1="505.20" x2="115.10" y2="505.20" stroke="#666" stroke-width="0.6"/>
<rect x="61.30" y="477.30" width="53.80" height="53.60" fill="none" stroke="#222" stroke-width="0.8"/>
<path d="M59.70,481.70H61.30M59.70,493.80H61.30M59.70,508.50H61.30M59.70,517.10H61.30M59.70,526.20H61.30M60.40,484.73H61.30M60.40,487.75H61.30M60.40,490.77H61.30M60.40,497.48H61.30M60.40,501.15H61.30M60.40,504.82H61.30M60.40,510.65H61.30M60.40,512.80H61.30M60.40,514.95H61.30M60.40,519.38H61.30M60.40,521.65H61.30M60.40,523.93H61.30M64.50,530.90V532.50M73.00,530.90V532.50M81.40,530.90V532.50M98.40,530.90V532.50M111.50,530.90V532.50M66.62,530.90V531.80M68.75,530.90V531.80M70.88,530.90V531.80M75.10,530.90V531.80M77.20,530.90V531.80M79.30,530.90V531.80M85.65,530.90V531.80M89.90,530.90V531.80M94.15,530.90V531.80M101.68,530.90V531.80M104.95,530.90V531.80M108.22,530.90V531.80" stroke="#222" stroke-width="0.5" fill="none"/>
<ellipse cx="60.70" cy="516.90" rx="0.9" ry="1.1" fill="#000"/>
<ellipse cx="73.50" cy="531.50" rx="1.3" ry="0.9" fill="#000"/>
<text x="64.20" y="486.10" font-size="5.8" text-anchor="start" fill="#222">99</text>
<text x="112.50" y="486.10" font-size="5.8" text-anchor="end" fill="#222">1</text>
<text x="64.20" y="529.10" font-size="5.8" text-anchor="start" fill="#222">0</text>
<text x="112.50" y="529.10" font-size="5.8" text-anchor="end" fill="#222">0</text>
<text x="56.30" y="483.90" font-size="6.3" text-anchor="end" fill="#222">10<tspan font-size="4.6" dy="-2.4">5</tspan></text>
<text x="56.30" y="496.00" font-size="6.3" text-anchor="end" fill="#222">10<tspan font-size="4.6" dy="-2.4">4</tspan></text>
<text x="56.30" y="510.70" font-size="6.3" text-anchor="end" fill="#222">10<tspan font-size="4.6" dy="-2.4">3</tspan></text>
<text x="56.30" y="519.30" font-size="6.3" text-anchor="end" fill="#222">0</text>
<text x="56.30" y="528.40" font-size="6.3" text-anchor="end" fill="#222">&#8722;10<tspan font-size="4.6" dy="-2.4">3</tspan></text>
<text x="65.10" y="541.10" font-size="6.3" text-anchor="middle" fill="#222">&#8722;10<tspan font-size="4.6" dy="-2.4">3</tspan></text>
<text x="73.00" y="541.10" font-size="6.3" text-anchor="middle" fill="#222">0</text>
<text x="82.00" y="541.10" font-size="6.3" text-anchor="middle" fill="#222">10<tspan font-size="4.6" dy="-2.4">3</tspan></text>
<text x="99.00" y="541.10" font-size="6.3" text-anchor="middle" fill="#222">10<tspan font-size="4.6" dy="-2.4">4</tspan></text>
<text x="112.10" y="541.10" font-size="6.3" text-anchor="middle" fill="#222">10<tspan font-size="4.6" dy="-2.4">5</tspan></text>
<text x="88.20" y="472.80" font-size="8.4" text-anchor="middle" textLength="40.5" lengthAdjust="spacingAndGlyphs">No targets</text>
<g>
<ellipse cx="141.30" cy="399.20" rx="4.40" ry="7.00" fill="#777" opacity="0.7" filter="url(#b2)" transform="rotate(0 141.30 399.20)"/>
<ellipse cx="141.00" cy="397.50" rx="2.20" ry="2.80" fill="#000" opacity="1.0" filter="url(#b1)" transform="rotate(0 141.00 397.50)"/>
</g>
<line x1="144.90" y1="382.40" x2="144.90" y2="435.50" stroke="#666" stroke-width="0.6"/>
<line x1="123.70" y1="408.30" x2="177.30" y2="408.30" stroke="#666" stroke-width="0.6"/>
<rect x="123.70" y="382.40" width="53.60" height="53.10" fill="none" stroke="#222" stroke-width="0.8"/>
<path d="M122.60,386.48H123.70M122.60,390.57H123.70M122.60,394.65H123.70M122.60,398.74H123.70M122.60,402.82H123.70M122.60,406.91H123.70M122.60,410.99H123.70M122.60,415.08H123.70M122.60,419.16H123.70M122.60,423.25H123.70M122.60,427.33H123.70M122.60,431.42H123.70M126.20,435.50V437.10M137.20,435.50V437.10M146.70,435.50V437.10M162.70,435.50V437.10M128.95,435.50V436.40M131.70,435.50V436.40M134.45,435.50V436.40M139.57,435.50V436.40M141.95,435.50V436.40M144.32,435.50V436.40M150.70,435.50V436.40M154.70,435.50V436.40M158.70,435.50V436.40" stroke="#222" stroke-width="0.5" fill="none"/>
<ellipse cx="123.10" cy="422.80" rx="0.9" ry="1.1" fill="#000"/>
<ellipse cx="136.90" cy="436.10" rx="1.3" ry="0.9" fill="#000"/>
<text x="126.60" y="391.20" font-size="5.8" text-anchor="start" fill="#222">93</text>
<text x="174.70" y="391.20" font-size="5.8" text-anchor="end" fill="#222">7</text>
<text x="126.60" y="433.70" font-size="5.8" text-anchor="start" fill="#222">0</text>
<text x="174.70" y="433.70" font-size="5.8" text-anchor="end" fill="#222">0</text>
<text x="126.80" y="445.70" font-size="6.3" text-anchor="middle" fill="#222">&#8722;10<tspan font-size="4.6" dy="-2.4">3</tspan></text>
<text x="137.20" y="445.70" font-size="6.3" text-anchor="middle" fill="#222">0</text>
<text x="147.30" y="445.70" font-size="6.3" text-anchor="middle" fill="#222">10<tspan font-size="4.6" dy="-2.4">3</tspan></text>
<text x="163.30" y="445.70" font-size="6.3" text-anchor="middle" fill="#222">10<tspan font-size="4.6" dy="-2.4">4</tspan></text>
<text x="150.50" y="377.30" font-size="8.4" text-anchor="middle"><tspan font-style="italic">Unc13d</tspan> KO</text>
<g>
<ellipse cx="140.00" cy="495.50" rx="6.00" ry="7.50" fill="#777" opacity="0.7" filter="url(#b2)" transform="rotate(0 140.00 495.50)"/>
<ellipse cx="155.00" cy="493.20" rx="6.50" ry="3.40" fill="#777" opacity="0.22" filter="url(#b2)" transform="rotate(0 155.00 493.20)"/>
<ellipse cx="140.50" cy="493.60" rx="3.00" ry="2.60" fill="#000" opacity="1.0" filter="url(#b1)" transform="rotate(0 140.50 493.60)"/>
</g>
<line x1="147.60" y1="477.30" x2="147.60" y2="530.90" stroke="#666" stroke-width="0.6"/>
<line x1="123.70" y1="505.20" x2="177.50" y2="505.20" stroke="#666" stroke-width="0.6"/>
<rect x="123.70" y="477.30" width="53.80" height="53.60" fill="none" stroke="#222" stroke-width="0.8"/>
<path d="M122.60,481.42H123.70M122.60,485.55H123.70M122.60,489.67H123.70M122.60,493.79H123.70M122.60,497.92H123.70M122.60,502.04H123.70M122.60,506.16H123.70M122.60,510.28H123.70M122.60,514.41H123.70M122.60,518.53H123.70M122.60,522.65H123.70M122.60,526.78H123.70M126.90,530.90V532.50M135.40,530.90V532.50M143.80,530.90V532.50M160.80,530.90V532.50M173.90,530.90V532.50M129.03,530.90V531.80M131.15,530.90V531.80M133.28,530.90V531.80M137.50,530.90V531.80M139.60,530.90V531.80M141.70,530.90V531.80M148.05,530.90V531.80M152.30,530.90V531.80M156.55,530.90V531.80M164.08,530.90V531.80M167.35,530.90V531.80M170.62,530.90V531.80" stroke="#222" stroke-width="0.5" fill="none"/>
<ellipse cx="123.10" cy="516.90" rx="0.9" ry="1.1" fill="#000"/>
<ellipse cx="135.90" cy="531.50" rx="1.3" ry="0.9" fill="#000"/>
<text x="126.60" y="486.10" font-size="5.8" text-anchor="start" fill="#222">92</text>
<text x="174.90" y="486.10" font-size="5.8" text-anchor="end" fill="#222">8</text>
<text x="126.60" y="529.10" font-size="5.8" text-anchor="start" fill="#222">0</text>
<text x="174.90" y="529.10" font-size="5.8" text-anchor="end" fill="#222">0</text>
<text x="127.50" y="541.10" font-size="6.3" text-anchor="middle" fill="#222">&#8722;10<tspan font-size="4.6" dy="-2.4">3</tspan></text>
<text x="135.40" y="541.10" font-size="6.3" text-anchor="middle" fill="#222">0</text>
<text x="144.40" y="541.10" font-size="6.3" text-anchor="middle" fill="#222">10<tspan font-size="4.6" dy="-2.4">3</tspan></text>
<text x="161.40" y="541.10" font-size="6.3" text-anchor="middle" fill="#222">10<tspan font-size="4.6" dy="-2.4">4</tspan></text>
<text x="174.50" y="541.10" font-size="6.3" text-anchor="middle" fill="#222">10<tspan font-size="4.6" dy="-2.4">5</tspan></text>
<text x="150.60" y="472.80" font-size="8.4" text-anchor="middle"><tspan font-style="italic">Unc13d</tspan> KO</text>
<g>
<ellipse cx="209.00" cy="399.50" rx="7.00" ry="5.50" fill="#777" opacity="0.7" filter="url(#b2)" transform="rotate(0 209.00 399.50)"/>
<ellipse cx="206.30" cy="398.50" rx="3.40" ry="2.30" fill="#000" opacity="1.0" filter="url(#b1)" transform="rotate(0 206.30 398.50)"/>
</g>
<line x1="207.70" y1="382.40" x2="207.70" y2="435.50" stroke="#666" stroke-width="0.6"/>
<line x1="185.90" y1="408.30" x2="239.50" y2="408.30" stroke="#666" stroke-width="0.6"/>
<rect x="185.90" y="382.40" width="53.60" height="53.10" fill="none" stroke="#222" stroke-width="0.8"/>
<path d="M184.80,386.48H185.90M184.80,390.57H185.90M184.80,394.65H185.90M184.80,398.74H185.90M184.80,402.82H185.90M184.80,406.91H185.90M184.80,410.99H185.90M184.80,415.08H185.90M184.80,419.16H185.90M184.80,423.25H185.90M184.80,427.33H185.90M184.80,431.42H185.90M188.40,435.50V437.10M199.40,435.50V437.10M208.90,435.50V437.10M224.90,435.50V437.10M191.15,435.50V436.40M193.90,435.50V436.40M196.65,435.50V436.40M201.78,435.50V436.40M204.15,435.50V436.40M206.53,435.50V436.40M212.90,435.50V436.40M216.90,435.50V436.40M220.90,435.50V436.40" stroke="#222" stroke-width="0.5" fill="none"/>
<ellipse cx="185.30" cy="422.80" rx="0.9" ry="1.1" fill="#000"/>
<ellipse cx="199.10" cy="436.10" rx="1.3" ry="0.9" fill="#000"/>
<text x="188.80" y="391.20" font-size="5.8" text-anchor="start" fill="#222">55</text>
<text x="236.90" y="391.20" font-size="5.8" text-anchor="end" fill="#222">45</text>
<text x="188.80" y="433.70" font-size="5.8" text-anchor="start" fill="#222">0</text>
<text x="236.90" y="433.70" font-size="5.8" text-anchor="end" fill="#222">0</text>
<text x="189.00" y="445.70" font-size="6.3" text-anchor="middle" fill="#222">&#8722;10<tspan font-size="4.6" dy="-2.4">3</tspan></text>
<text x="199.40" y="445.70" font-size="6.3" text-anchor="middle" fill="#222">0</text>
<text x="209.50" y="445.70" font-size="6.3" text-anchor="middle" fill="#222">10<tspan font-size="4.6" dy="-2.4">3</tspan></text>
<text x="225.50" y="445.70" font-size="6.3" text-anchor="middle" fill="#222">10<tspan font-size="4.6" dy="-2.4">4</tspan></text>
<text x="212.70" y="377.30" font-size="8.4" text-anchor="middle">MUNC13-4 WT</text>
<g>
<ellipse cx="210.00" cy="495.50" rx="12.50" ry="6.20" fill="#777" opacity="0.75" filter="url(#b2)" transform="rotate(-6 210.00 495.50)"/>
<ellipse cx="209.00" cy="494.40" rx="8.00" ry="2.60" fill="#000" opacity="0.95" filter="url(#b1)" transform="rotate(-8 209.00 494.40)"/>
</g>
<line x1="209.00" y1="477.30" x2="209.00" y2="530.90" stroke="#666" stroke-width="0.6"/>
<line x1="185.90" y1="505.20" x2="239.70" y2="505.20" stroke="#666" stroke-width="0.6"/>
<rect x="185.90" y="477.30" width="53.80" height="53.60" fill="none" stroke="#222" stroke-width="0.8"/>
<path d="M184.80,481.42H185.90M184.80,485.55H185.90M184.80,489.67H185.90M184.80,493.79H185.90M184.80,497.92H185.90M184.80,502.04H185.90M184.80,506.16H185.90M184.80,510.28H185.90M184.80,514.41H185.90M184.80,518.53H185.90M184.80,522.65H185.90M184.80,526.78H185.90M189.10,530.90V532.50M197.60,530.90V532.50M206.00,530.90V532.50M223.00,530.90V532.50M236.10,530.90V532.50M191.22,530.90V531.80M193.35,530.90V531.80M195.47,530.90V531.80M199.70,530.90V531.80M201.80,530.90V531.80M203.90,530.90V531.80M210.25,530.90V531.80M214.50,530.90V531.80M218.75,530.90V531.80M226.28,530.90V531.80M229.55,530.90V531.80M232.83,530.90V531.80" stroke="#222" stroke-width="0.5" fill="none"/>
<ellipse cx="185.30" cy="516.90" rx="0.9" ry="1.1" fill="#000"/>
<ellipse cx="198.10" cy="531.50" rx="1.3" ry="0.9" fill="#000"/>
<text x="188.80" y="486.10" font-size="5.8" text-anchor="start" fill="#222">47</text>
<text x="237.10" y="486.10" font-size="5.8" text-anchor="end" fill="#222">53</text>
<text x="188.80" y="529.10" font-size="5.8" text-anchor="start" fill="#222">0</text>
<text x="237.10" y="529.10" font-size="5.8" text-anchor="end" fill="#222">0</text>
<text x="189.70" y="541.10" font-size="6.3" text-anchor="middle" fill="#222">&#8722;10<tspan font-size="4.6" dy="-2.4">3</tspan></text>
<text x="197.60" y="541.10" font-size="6.3" text-anchor="middle" fill="#222">0</text>
<text x="206.60" y="541.10" font-size="6.3" text-anchor="middle" fill="#222">10<tspan font-size="4.6" dy="-2.4">3</tspan></text>
<text x="223.60" y="541.10" font-size="6.3" text-anchor="middle" fill="#222">10<tspan font-size="4.6" dy="-2.4">4</tspan></text>
<text x="236.70" y="541.10" font-size="6.3" text-anchor="middle" fill="#222">10<tspan font-size="4.6" dy="-2.4">5</tspan></text>
<text x="212.80" y="472.80" font-size="8.4" text-anchor="middle">MUNC13-4 WT</text>
<g>
<ellipse cx="270.50" cy="399.50" rx="6.50" ry="5.50" fill="#777" opacity="0.7" filter="url(#b2)" transform="rotate(0 270.50 399.50)"/>
<ellipse cx="268.50" cy="398.50" rx="3.00" ry="2.30" fill="#000" opacity="1.0" filter="url(#b1)" transform="rotate(0 268.50 398.50)"/>
</g>
<line x1="270.20" y1="382.40" x2="270.20" y2="435.50" stroke="#666" stroke-width="0.6"/>
<line x1="248.20" y1="408.30" x2="301.80" y2="408.30" stroke="#666" stroke-width="0.6"/>
<rect x="248.20" y="382.40" width="53.60" height="53.10" fill="none" stroke="#222" stroke-width="0.8"/>
<path d="M247.10,386.48H248.20M247.10,390.57H248.20M247.10,394.65H248.20M247.10,398.74H248.20M247.10,402.82H248.20M247.10,406.91H248.20M247.10,410.99H248.20M247.10,415.08H248.20M247.10,419.16H248.20M247.10,423.25H248.20M247.10,427.33H248.20M247.10,431.42H248.20M250.70,435.50V437.10M261.70,435.50V437.10M271.20,435.50V437.10M287.20,435.50V437.10M253.45,435.50V436.40M256.20,435.50V436.40M258.95,435.50V436.40M264.07,435.50V436.40M266.45,435.50V436.40M268.82,435.50V436.40M275.20,435.50V436.40M279.20,435.50V436.40M283.20,435.50V436.40" stroke="#222" stroke-width="0.5" fill="none"/>
<ellipse cx="247.60" cy="422.80" rx="0.9" ry="1.1" fill="#000"/>
<ellipse cx="261.40" cy="436.10" rx="1.3" ry="0.9" fill="#000"/>
<text x="251.10" y="391.20" font-size="5.8" text-anchor="start" fill="#222">90</text>
<text x="299.20" y="391.20" font-size="5.8" text-anchor="end" fill="#222">10</text>
<text x="251.10" y="433.70" font-size="5.8" text-anchor="start" fill="#222">0</text>
<text x="299.20" y="433.70" font-size="5.8" text-anchor="end" fill="#222">0</text>
<text x="251.30" y="445.70" font-size="6.3" text-anchor="middle" fill="#222">&#8722;10<tspan font-size="4.6" dy="-2.4">3</tspan></text>
<text x="261.70" y="445.70" font-size="6.3" text-anchor="middle" fill="#222">0</text>
<text x="271.80" y="445.70" font-size="6.3" text-anchor="middle" fill="#222">10<tspan font-size="4.6" dy="-2.4">3</tspan></text>
<text x="287.80" y="445.70" font-size="6.3" text-anchor="middle" fill="#222">10<tspan font-size="4.6" dy="-2.4">4</tspan></text>
<text x="275.00" y="377.30" font-size="8.4" text-anchor="middle">E379K (P11)</text>
<g>
<ellipse cx="269.00" cy="494.80" rx="11.00" ry="6.00" fill="#777" opacity="0.72" filter="url(#b2)" transform="rotate(-22 269.00 494.80)"/>
<ellipse cx="266.80" cy="494.80" rx="5.20" ry="2.80" fill="#000" opacity="1.0" filter="url(#b1)" transform="rotate(-25 266.80 494.80)"/>
</g>
<line x1="271.50" y1="477.30" x2="271.50" y2="530.90" stroke="#666" stroke-width="0.6"/>
<line x1="248.20" y1="505.20" x2="302.00" y2="505.20" stroke="#666" stroke-width="0.6"/>
<rect x="248.20" y="477.30" width="53.80" height="53.60" fill="none" stroke="#222" stroke-width="0.8"/>
<path d="M247.10,481.42H248.20M247.10,485.55H248.20M247.10,489.67H248.20M247.10,493.79H248.20M247.10,497.92H248.20M247.10,502.04H248.20M247.10,506.16H248.20M247.10,510.28H248.20M247.10,514.41H248.20M247.10,518.53H248.20M247.10,522.65H248.20M247.10,526.78H248.20M251.40,530.90V532.50M259.90,530.90V532.50M268.30,530.90V532.50M285.30,530.90V532.50M298.40,530.90V532.50M253.52,530.90V531.80M255.65,530.90V531.80M257.77,530.90V531.80M262.00,530.90V531.80M264.10,530.90V531.80M266.20,530.90V531.80M272.55,530.90V531.80M276.80,530.90V531.80M281.05,530.90V531.80M288.57,530.90V531.80M291.85,530.90V531.80M295.12,530.90V531.80" stroke="#222" stroke-width="0.5" fill="none"/>
<ellipse cx="247.60" cy="516.90" rx="0.9" ry="1.1" fill="#000"/>
<ellipse cx="260.40" cy="531.50" rx="1.3" ry="0.9" fill="#000"/>
<text x="251.10" y="486.10" font-size="5.8" text-anchor="start" fill="#222">71</text>
<text x="299.40" y="486.10" font-size="5.8" text-anchor="end" fill="#222">29</text>
<text x="251.10" y="529.10" font-size="5.8" text-anchor="start" fill="#222">0</text>
<text x="299.40" y="529.10" font-size="5.8" text-anchor="end" fill="#222">0</text>
<text x="252.00" y="541.10" font-size="6.3" text-anchor="middle" fill="#222">&#8722;10<tspan font-size="4.6" dy="-2.4">3</tspan></text>
<text x="259.90" y="541.10" font-size="6.3" text-anchor="middle" fill="#222">0</text>
<text x="268.90" y="541.10" font-size="6.3" text-anchor="middle" fill="#222">10<tspan font-size="4.6" dy="-2.4">3</tspan></text>
<text x="285.90" y="541.10" font-size="6.3" text-anchor="middle" fill="#222">10<tspan font-size="4.6" dy="-2.4">4</tspan></text>
<text x="299.00" y="541.10" font-size="6.3" text-anchor="middle" fill="#222">10<tspan font-size="4.6" dy="-2.4">5</tspan></text>
<text x="275.10" y="472.80" font-size="8.4" text-anchor="middle">E379K (P11)</text>
<path d="M29.80,420.90 V451.70 H59.60" fill="none" stroke="#222" stroke-width="1.0"/>
<path d="M29.80,417.90 L31.80,422.50 L27.80,422.50Z" fill="#222"/>
<path d="M62.60,451.70 L58.00,449.70 L58.00,453.70Z" fill="#222"/>
<text x="25.50" y="431.00" font-size="7.4" text-anchor="middle" fill="#222" textLength="15.5" lengthAdjust="spacingAndGlyphs" transform="rotate(-90 25.50 431.00)">CD8a</text>
<text x="45.60" y="460.30" font-size="7.4" text-anchor="middle" fill="#222" textLength="21.4" lengthAdjust="spacingAndGlyphs">LAMP-1</text>
<text x="39.40" y="409.00" font-size="6.6" text-anchor="middle" fill="#222" transform="rotate(-90 39.40 409.00)">Day 4</text>
<path d="M29.80,517.00 V546.70 H59.20" fill="none" stroke="#222" stroke-width="1.0"/>
<path d="M29.80,514.00 L31.80,518.60 L27.80,518.60Z" fill="#222"/>
<path d="M62.20,546.70 L57.60,544.70 L57.60,548.70Z" fill="#222"/>
<text x="25.50" y="527.50" font-size="7.4" text-anchor="middle" fill="#222" textLength="15.5" lengthAdjust="spacingAndGlyphs" transform="rotate(-90 25.50 527.50)">CD8a</text>
<text x="45.60" y="556.00" font-size="7.4" text-anchor="middle" fill="#222" textLength="21.4" lengthAdjust="spacingAndGlyphs">LAMP-1</text>
<text x="39.40" y="504.50" font-size="6.6" text-anchor="middle" fill="#222" transform="rotate(-90 39.40 504.50)">Day 7</text>
<rect x="352.7" y="77.8" width="122.0" height="21.4" fill="#e5e5e5"/>
<rect x="352.9" y="101.6" width="121.8" height="23.6" fill="#e0e0e0"/>
<rect x="356.20" y="89.50" width="20.10" height="2.40" rx="1" fill="#111" opacity="0.92" filter="url(#b3)"/>
<rect x="404.50" y="87.10" width="20.70" height="3.00" rx="1" fill="#111" opacity="1.0" filter="url(#b3)"/>
<rect x="428.80" y="87.05" width="20.00" height="2.50" rx="1" fill="#111" opacity="1.0" filter="url(#b3)"/>
<rect x="452.50" y="87.20" width="21.30" height="2.80" rx="1" fill="#111" opacity="1.0" filter="url(#b3)"/>
<rect x="353.90" y="108.8" width="22.40" height="8.2" rx="2" fill="url(#gact)" filter="url(#b3)"/>
<rect x="379.50" y="108.8" width="21.80" height="8.2" rx="2" fill="url(#gact)" filter="url(#b3)"/>
<rect x="403.00" y="108.8" width="23.30" height="8.2" rx="2" fill="url(#gact)" filter="url(#b3)"/>
<rect x="428.00" y="108.8" width="22.00" height="8.2" rx="2" fill="url(#gact)" filter="url(#b3)"/>
<rect x="451.30" y="108.8" width="23.10" height="8.2" rx="2" fill="url(#gact)" filter="url(#b3)"/>
<text x="347.00" y="73.60" font-size="6.2" text-anchor="end" fill="#222">KDa</text>
<text x="347.30" y="82.40" font-size="6.3" text-anchor="end" fill="#222">190</text>
<line x1="350.30" y1="80.20" x2="352.90" y2="80.20" stroke="#333" stroke-width="0.6"/>
<text x="347.30" y="96.80" font-size="6.3" text-anchor="end" fill="#222">115</text>
<line x1="350.30" y1="94.60" x2="352.90" y2="94.60" stroke="#333" stroke-width="0.6"/>
<text x="347.30" y="104.80" font-size="6.3" text-anchor="end" fill="#222">50</text>
<line x1="350.30" y1="102.60" x2="352.90" y2="102.60" stroke="#333" stroke-width="0.6"/>
<text x="347.30" y="122.80" font-size="6.3" text-anchor="end" fill="#222">30</text>
<line x1="350.30" y1="120.60" x2="352.90" y2="120.60" stroke="#333" stroke-width="0.6"/>
<text x="367.40" y="75.30" font-size="6.5" text-anchor="start" fill="#222" transform="rotate(-90 367.40 75.30)">NT</text>
<text x="392.40" y="75.30" font-size="6.5" text-anchor="start" fill="#222" transform="rotate(-90 392.40 75.30)"><tspan font-style="italic">Unc13d</tspan> KO</text>
<text x="416.20" y="75.30" font-size="6.5" text-anchor="start" fill="#222" transform="rotate(-90 416.20 75.30)">MUNC13-4 WT</text>
<text x="440.80" y="75.30" font-size="6.5" text-anchor="start" fill="#222" transform="rotate(-90 440.80 75.30)">R411Q (P6)</text>
<text x="464.90" y="75.30" font-size="6.5" text-anchor="start" fill="#222" transform="rotate(-90 464.90 75.30)">G863D (P6)</text>
<text x="478.20" y="90.60" font-size="6.2" text-anchor="start" fill="#222">MUNC13-4</text>
<text x="478.20" y="116.20" font-size="6.2" text-anchor="start" fill="#222">&#946;-actin</text>
<rect x="353.7" y="419.6" width="122.6" height="20.0" fill="#dadada"/>
<rect x="353.7" y="446.9" width="122.6" height="18.2" fill="#d5d5d5"/>
<rect x="355" y="434.5" width="28" height="5" fill="#cfcfcf" filter="url(#b2)"/>
<rect x="355.00" y="432.10" width="27.50" height="2.20" rx="1" fill="#111" opacity="0.85" filter="url(#b3)"/>
<rect x="418.00" y="429.30" width="25.80" height="3.20" rx="1" fill="#111" opacity="1.0" filter="url(#b3)"/>
<rect x="448.80" y="428.80" width="27.40" height="3.20" rx="1" fill="#111" opacity="1.0" filter="url(#b3)"/>
<rect x="354.00" y="453.80" width="34.00" height="6.20" rx="1.2" fill="#0d0d0d" filter="url(#b3)"/>
<rect x="387.60" y="454.00" width="30.40" height="5.80" rx="1.2" fill="#0d0d0d" filter="url(#b3)"/>
<rect x="417.60" y="453.60" width="29.60" height="6.30" rx="1.2" fill="#0d0d0d" filter="url(#b3)"/>
<rect x="446.80" y="451.40" width="29.50" height="8.80" rx="1.2" fill="#0d0d0d" filter="url(#b3)"/>
<text x="347.00" y="412.40" font-size="6.2" text-anchor="end" fill="#222">KDa</text>
<text x="347.30" y="422.20" font-size="6.3" text-anchor="end" fill="#222">190</text>
<line x1="350.30" y1="420.00" x2="352.90" y2="420.00" stroke="#333" stroke-width="0.6"/>
<text x="347.30" y="441.40" font-size="6.3" text-anchor="end" fill="#222">115</text>
<line x1="350.30" y1="439.20" x2="352.90" y2="439.20" stroke="#333" stroke-width="0.6"/>
<text x="347.30" y="449.10" font-size="6.3" text-anchor="end" fill="#222">50</text>
<line x1="350.30" y1="446.90" x2="352.90" y2="446.90" stroke="#333" stroke-width="0.6"/>
<text x="347.30" y="466.80" font-size="6.3" text-anchor="end" fill="#222">30</text>
<line x1="350.30" y1="464.60" x2="352.90" y2="464.60" stroke="#333" stroke-width="0.6"/>
<text x="372.20" y="412.80" font-size="6.1" text-anchor="start" fill="#222" transform="rotate(-90 372.20 412.80)">NT</text>
<text x="403.50" y="412.80" font-size="6.1" text-anchor="start" fill="#222" transform="rotate(-90 403.50 412.80)"><tspan font-style="italic">Unc13d</tspan> KO</text>
<text x="432.70" y="412.80" font-size="6.1" text-anchor="start" fill="#222" transform="rotate(-90 432.70 412.80)">MUNC13-4 WT</text>
<text x="464.30" y="412.80" font-size="6.1" text-anchor="start" fill="#222" transform="rotate(-90 464.30 412.80)">E379K (P11)</text>
<text x="481.20" y="431.90" font-size="6.2" text-anchor="start" fill="#222">MUNC13-4</text>
<text x="481.20" y="458.30" font-size="6.2" text-anchor="start" fill="#222">&#946;-actin</text>
</g></svg>
<div id="frame"></div>
</body></html>
